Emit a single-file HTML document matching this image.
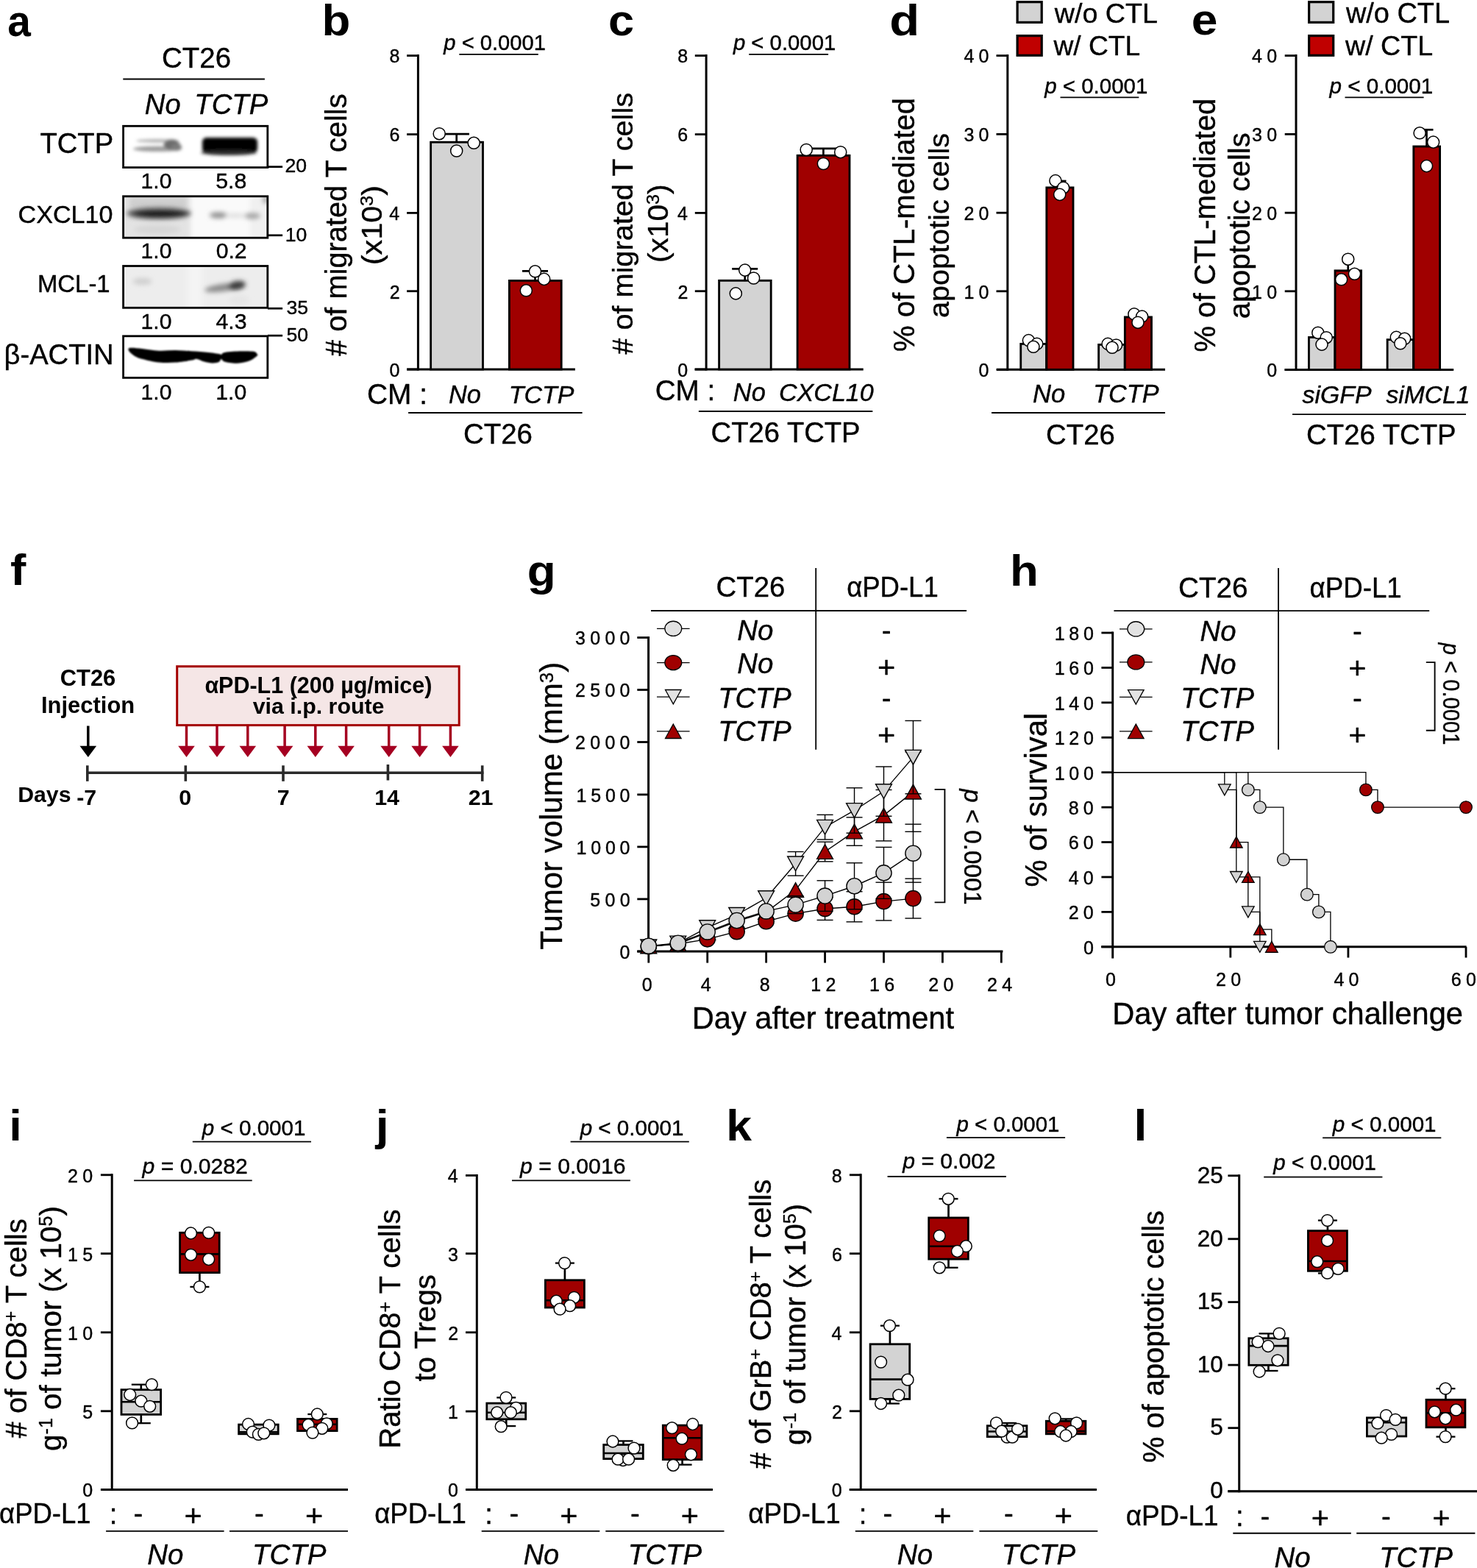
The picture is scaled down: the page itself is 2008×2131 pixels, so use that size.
<!DOCTYPE html>
<html lang="en">
<head>
<meta charset="utf-8">
<title>Figure</title>
<style>
html,body{margin:0;padding:0;background:#fff;}
body{width:2008px;height:2131px;}
svg{display:block;font-family:"Liberation Sans", Arial, Helvetica, sans-serif;}
svg text{white-space:pre;stroke:#000;stroke-width:0.4px;stroke-linejoin:round;}
svg text.b{stroke-width:0;}
</style>
</head>
<body>
<svg width="2008" height="2131" viewBox="0 0 2008 2131">
<defs>
<filter id="b1" x="-30%" y="-80%" width="160%" height="260%"><feGaussianBlur stdDeviation="2.2"/></filter>
<filter id="b2" x="-30%" y="-80%" width="160%" height="260%"><feGaussianBlur stdDeviation="3.2"/></filter>
<filter id="b3" x="-30%" y="-80%" width="160%" height="260%"><feGaussianBlur stdDeviation="1.3"/></filter>
<filter id="b5" x="-30%" y="-80%" width="160%" height="260%"><feGaussianBlur stdDeviation="5"/></filter>
<clipPath id="cx"><rect x="167.6" y="266.8" width="196.2" height="56.4"/></clipPath>
<clipPath id="cm"><rect x="167.6" y="361.5" width="196.2" height="56.8"/></clipPath>
</defs>
<rect width="2008" height="2131" fill="#fff"/>
<text font-size="59" class="b" textLength="31.6" lengthAdjust="spacingAndGlyphs" x="10.2" y="48.6"><tspan font-weight="bold">a</tspan></text>
<text font-size="38.47" x="220.08" y="91.6">CT26</text>
<line x1="167.3" y1="107.4" x2="359.9" y2="107.4" stroke="#000" stroke-width="2" stroke-linecap="butt"/>
<text font-size="38.11" x="196.86" y="154.6"><tspan font-style="italic">No</tspan></text>
<text font-size="38.29" x="264.35" y="154.6"><tspan font-style="italic">TCTP</tspan></text>
<rect x="167.6" y="266.8" width="196.20000000000002" height="56.4" fill="#fafafa"/>
<g clip-path="url(#cx)"><g filter="url(#b2)"><rect x="160" y="260" width="99" height="70" fill="#e3e3e3"/><rect x="176" y="268" width="78" height="16" fill="#cfcfcf"/><rect x="340" y="266" width="24" height="58" fill="#f0f0f0"/><rect x="358" y="267" width="5" height="9" fill="#666"/></g></g>
<rect x="167.6" y="361.5" width="196.20000000000002" height="56.8" fill="#ededed"/>
<g clip-path="url(#cm)"><g filter="url(#b5)"><rect x="255" y="355" width="20" height="70" fill="#f4f4f4"/></g></g>
<g filter="url(#b1)"><ellipse cx="214" cy="202.4" rx="33" ry="3.6" fill="#9c9c9c"/><ellipse cx="214" cy="191.4" rx="29" ry="2.4" fill="#b4b4b4"/><ellipse cx="233.5" cy="196.6" rx="11" ry="7" fill="#6c6c6c"/><ellipse cx="240" cy="200" rx="7" ry="5" fill="#7a7a7a"/><rect x="275" y="187.5" width="75" height="19.5" rx="5" fill="#000"/><rect x="277" y="187" width="70" height="14" rx="4" fill="#000"/><ellipse cx="311" cy="207.5" rx="38" ry="3.5" fill="#2a2a2a"/></g>
<g filter="url(#b2)"><ellipse cx="216" cy="290" rx="44" ry="8" fill="#5a5a5a"/><ellipse cx="218" cy="290.6" rx="37" ry="4.6" fill="#111"/><ellipse cx="297" cy="292.4" rx="12" ry="4" fill="#8c8c8c"/><ellipse cx="343" cy="293.4" rx="11" ry="4" fill="#a2a2a2"/><ellipse cx="320" cy="293" rx="14" ry="2.6" fill="#d8d8d8"/><ellipse cx="214" cy="312" rx="32" ry="6" fill="#d6d6d6"/></g>
<g filter="url(#b2)"><ellipse cx="193.5" cy="382.5" rx="13" ry="4.5" fill="#cfcfcf"/><ellipse cx="303" cy="391" rx="25" ry="5" fill="#8a8a8a" transform="rotate(-8 303 391)"/><ellipse cx="322" cy="388" rx="12" ry="6" fill="#3a3a3a" transform="rotate(-10 322 388)"/><ellipse cx="325" cy="408" rx="14" ry="7" fill="#e6e6e6"/></g>
<g filter="url(#b3)"><path d="M176.8 472.8 C179.88 472.33 187.05 473.25 193.6 473.9 C200.15 474.55 208.62 476.33 216.1 476.7 C223.58 477.07 231.03 476 238.5 476.1 C245.97 476.2 253.43 476.83 260.9 477.3 C268.37 477.77 276.95 478.25 283.3 478.9 C289.65 479.55 296.1 480.65 299 481.2 C301.9 481.75 299.57 482.58 300.7 482.2 C301.83 481.82 301.22 479.72 305.8 478.9 C310.38 478.08 321.67 477.48 328.2 477.3 C334.73 477.12 341.45 477.15 345 477.8 C348.55 478.45 348.75 480.27 349.5 481.2 C350.25 482.13 351.18 481.9 349.5 483.4 C347.82 484.9 343.88 488.48 339.4 490.2 C334.92 491.92 328.2 493.43 322.6 493.7 C317 493.97 309.45 492.75 305.8 491.8 C302.15 490.85 302.02 488 300.7 488 C299.38 488 299.87 490.88 297.9 491.8 C295.93 492.72 292.27 493.55 288.9 493.5 C285.53 493.45 281.25 492.43 277.7 491.5 C274.15 490.57 270.4 488.22 267.6 487.9 C264.8 487.58 265.75 488.82 260.9 489.6 C256.05 490.38 245.97 492.13 238.5 492.6 C231.03 493.07 223.58 493.18 216.1 492.4 C208.62 491.62 199.22 489.4 193.6 487.9 C187.98 486.4 185.48 485.27 182.4 483.4 C179.32 481.53 176.03 478.47 175.1 476.7 C174.17 474.93 173.72 473.27 176.8 472.8 Z" fill="#000"/></g>
<rect x="167.6" y="171.3" width="196.2" height="56.3" fill="none" stroke="#000" stroke-width="2.8" />
<rect x="167.6" y="266.8" width="196.2" height="56.4" fill="none" stroke="#000" stroke-width="2.8" />
<rect x="167.6" y="361.5" width="196.2" height="56.8" fill="none" stroke="#000" stroke-width="2.8" />
<rect x="167.6" y="456.8" width="196.2" height="56.6" fill="none" stroke="#000" stroke-width="2.8" />
<text font-size="38.19" x="54.44" y="207.9">TCTP</text>
<text font-size="34.12" x="24.59" y="303.3">CXCL10</text>
<text font-size="32.9" x="50.97" y="396.9">MCL-1</text>
<text font-size="38.16" x="5.53" y="494.8">β-ACTIN</text>
<text font-size="30.2" x="191.54" y="255.6">1.0</text>
<text font-size="30.2" x="293.33" y="255.6">5.8</text>
<text font-size="30.2" x="191.54" y="351.1">1.0</text>
<text font-size="30.2" x="293.63" y="351.1">0.2</text>
<text font-size="30.2" x="191.54" y="447.4">1.0</text>
<text font-size="30.2" x="293.48" y="447.4">4.3</text>
<text font-size="30.2" x="191.54" y="543.2">1.0</text>
<text font-size="30.2" x="293.33" y="543.2">1.0</text>
<line x1="364" y1="226.7" x2="384.1" y2="226.7" stroke="#000" stroke-width="2.7" stroke-linecap="butt"/>
<text font-size="26.6" x="387.4" y="234.4">20</text>
<line x1="364" y1="319.8" x2="384.1" y2="319.8" stroke="#000" stroke-width="2.7" stroke-linecap="butt"/>
<text font-size="26.6" x="387.67" y="327.6">10</text>
<line x1="364" y1="419.2" x2="384.1" y2="419.2" stroke="#000" stroke-width="2.7" stroke-linecap="butt"/>
<text font-size="26.6" x="389.54" y="427">35</text>
<line x1="364" y1="456.1" x2="384.1" y2="456.1" stroke="#000" stroke-width="2.7" stroke-linecap="butt"/>
<text font-size="26.6" x="389.54" y="463.8">50</text>
<text font-size="59" class="b" textLength="38.83" lengthAdjust="spacingAndGlyphs" x="437.57" y="48.1"><tspan font-weight="bold">b</tspan></text>
<line x1="553.2" y1="502" x2="781.9" y2="502" stroke="#000" stroke-width="3" stroke-linecap="butt"/>
<rect x="585.62" y="193.23" width="70.85" height="308.77" fill="#d3d3d3" stroke="#000" stroke-width="2.85" />
<rect x="692.42" y="381.43" width="70.75" height="120.57" fill="#a00000" stroke="#000" stroke-width="2.85" />
<line x1="568.4" y1="74.1" x2="568.4" y2="503.5" stroke="#000" stroke-width="3" stroke-linecap="butt"/>
<line x1="553.1" y1="75.6" x2="568.4" y2="75.6" stroke="#000" stroke-width="2.8" stroke-linecap="butt"/>
<text font-size="25" x="529.42" y="85.4">8</text>
<line x1="553.1" y1="182.6" x2="568.4" y2="182.6" stroke="#000" stroke-width="2.8" stroke-linecap="butt"/>
<text font-size="25" x="529.55" y="192.4">6</text>
<line x1="553.1" y1="289.4" x2="568.4" y2="289.4" stroke="#000" stroke-width="2.8" stroke-linecap="butt"/>
<text font-size="25" x="529.17" y="299.2">4</text>
<line x1="553.1" y1="395.7" x2="568.4" y2="395.7" stroke="#000" stroke-width="2.8" stroke-linecap="butt"/>
<text font-size="25" x="529.67" y="405.5">2</text>
<line x1="553.1" y1="502" x2="568.4" y2="502" stroke="#000" stroke-width="2.8" stroke-linecap="butt"/>
<text font-size="25" x="529.42" y="511.8">0</text>
<line x1="620.7" y1="182.2" x2="620.7" y2="192" stroke="#000" stroke-width="2.7" stroke-linecap="butt"/>
<line x1="603.45" y1="182.2" x2="637.95" y2="182.2" stroke="#000" stroke-width="2.7" stroke-linecap="butt"/>
<line x1="727.5" y1="368.3" x2="727.5" y2="380" stroke="#000" stroke-width="2.7" stroke-linecap="butt"/>
<line x1="710" y1="368.3" x2="745" y2="368.3" stroke="#000" stroke-width="2.7" stroke-linecap="butt"/>
<circle cx="597.2" cy="181.7" r="8.05" fill="#fff" stroke="#000" stroke-width="1.5"/>
<circle cx="644.2" cy="194.3" r="8.05" fill="#fff" stroke="#000" stroke-width="1.5"/>
<circle cx="620.7" cy="205" r="8.05" fill="#fff" stroke="#000" stroke-width="1.5"/>
<circle cx="727.5" cy="368.8" r="8.05" fill="#fff" stroke="#000" stroke-width="1.5"/>
<circle cx="739.7" cy="379.4" r="8.05" fill="#fff" stroke="#000" stroke-width="1.5"/>
<circle cx="715.3" cy="394.8" r="8.05" fill="#fff" stroke="#000" stroke-width="1.5"/>
<text font-size="29.17" x="603.33" y="67.9"><tspan font-style="italic">p</tspan> &lt; 0.0001</text>
<line x1="624.3" y1="73.9" x2="731.8" y2="73.9" stroke="#000" stroke-width="1.9" stroke-linecap="butt"/>
<text font-size="39.76" transform="translate(471.2 483.9) rotate(-90)"># of migrated T cells</text>
<text font-size="39.7" textLength="108.29" lengthAdjust="spacingAndGlyphs" transform="translate(518.6 360.18) rotate(-90)">(x10<tspan font-size="24.61" dy="-11.51">3</tspan><tspan dy="11.51">)</tspan></text>
<text font-size="38.83" x="498.96" y="548.8">CM :</text>
<text font-size="34.32" x="610.07" y="547.7"><tspan font-style="italic">No</tspan></text>
<text font-size="33.96" x="691.74" y="547.7"><tspan font-style="italic">TCTP</tspan></text>
<line x1="555.1" y1="561" x2="791.6" y2="561" stroke="#000" stroke-width="1.8" stroke-linecap="butt"/>
<text font-size="38.47" x="629.88" y="603.3">CT26</text>
<text font-size="59" class="b" textLength="35.09" lengthAdjust="spacingAndGlyphs" x="827.08" y="48.3"><tspan font-weight="bold">c</tspan></text>
<line x1="944.5" y1="502" x2="1173.7" y2="502" stroke="#000" stroke-width="3" stroke-linecap="butt"/>
<rect x="977.62" y="381.32" width="70.55" height="120.68" fill="#d3d3d3" stroke="#000" stroke-width="2.85" />
<rect x="1084.12" y="211.33" width="70.85" height="290.67" fill="#a00000" stroke="#000" stroke-width="2.85" />
<line x1="960.1" y1="74.1" x2="960.1" y2="503.5" stroke="#000" stroke-width="3" stroke-linecap="butt"/>
<line x1="944.8" y1="75.6" x2="960.1" y2="75.6" stroke="#000" stroke-width="2.8" stroke-linecap="butt"/>
<text font-size="25" x="921.23" y="85.4">8</text>
<line x1="944.8" y1="182.6" x2="960.1" y2="182.6" stroke="#000" stroke-width="2.8" stroke-linecap="butt"/>
<text font-size="25" x="921.35" y="192.4">6</text>
<line x1="944.8" y1="289.4" x2="960.1" y2="289.4" stroke="#000" stroke-width="2.8" stroke-linecap="butt"/>
<text font-size="25" x="920.98" y="299.2">4</text>
<line x1="944.8" y1="395.7" x2="960.1" y2="395.7" stroke="#000" stroke-width="2.8" stroke-linecap="butt"/>
<text font-size="25" x="921.48" y="405.5">2</text>
<line x1="944.8" y1="502" x2="960.1" y2="502" stroke="#000" stroke-width="2.8" stroke-linecap="butt"/>
<text font-size="25" x="921.23" y="511.8">0</text>
<line x1="1012.7" y1="365.3" x2="1012.7" y2="380" stroke="#000" stroke-width="2.7" stroke-linecap="butt"/>
<line x1="995.2" y1="365.3" x2="1030.2" y2="365.3" stroke="#000" stroke-width="2.7" stroke-linecap="butt"/>
<line x1="1119.4" y1="201.8" x2="1119.4" y2="210" stroke="#000" stroke-width="2.7" stroke-linecap="butt"/>
<line x1="1101.9" y1="201.8" x2="1136.9" y2="201.8" stroke="#000" stroke-width="2.7" stroke-linecap="butt"/>
<circle cx="1012.7" cy="367.1" r="8.05" fill="#fff" stroke="#000" stroke-width="1.5"/>
<circle cx="1024.6" cy="378" r="8.05" fill="#fff" stroke="#000" stroke-width="1.5"/>
<circle cx="1000.3" cy="398.9" r="8.05" fill="#fff" stroke="#000" stroke-width="1.5"/>
<circle cx="1096.2" cy="203.5" r="8.05" fill="#fff" stroke="#000" stroke-width="1.5"/>
<circle cx="1142.7" cy="206.7" r="8.05" fill="#fff" stroke="#000" stroke-width="1.5"/>
<circle cx="1119.4" cy="222.5" r="8.05" fill="#fff" stroke="#000" stroke-width="1.5"/>
<text font-size="29.31" x="996.93" y="67.9"><tspan font-style="italic">p</tspan> &lt; 0.0001</text>
<line x1="1018.2" y1="73.9" x2="1126.1" y2="73.9" stroke="#000" stroke-width="1.9" stroke-linecap="butt"/>
<text font-size="39.69" transform="translate(859.5 481.7) rotate(-90)"># of migrated T cells</text>
<text font-size="39.7" textLength="106.51" lengthAdjust="spacingAndGlyphs" transform="translate(907.8 356.94) rotate(-90)">(x10<tspan font-size="24.61" dy="-11.51">3</tspan><tspan dy="11.51">)</tspan></text>
<text font-size="38.63" x="890.67" y="543.5">CM :</text>
<text font-size="34.32" x="996.87" y="545.2"><tspan font-style="italic">No</tspan></text>
<text font-size="34.06" x="1059.03" y="545.2"><tspan font-style="italic">CXCL10</tspan></text>
<line x1="949.9" y1="559" x2="1186.3" y2="559" stroke="#000" stroke-width="1.8" stroke-linecap="butt"/>
<text font-size="38.2" x="966.59" y="601.1">CT26 TCTP</text>
<text font-size="59" class="b" textLength="40.89" lengthAdjust="spacingAndGlyphs" x="1209.32" y="48.3"><tspan font-weight="bold">d</tspan></text>
<rect x="1383.1" y="2.7" width="33.1" height="27.7" fill="#d3d3d3" stroke="#000" stroke-width="3.2" />
<rect x="1383.1" y="48.6" width="33.1" height="26.7" fill="#c00000" stroke="#000" stroke-width="3.2" />
<text font-size="37.62" x="1433.8" y="30.8">w/o CTL</text>
<text font-size="37.16" x="1432.5" y="75.3">w/ CTL</text>
<line x1="1355" y1="502.3" x2="1584" y2="502.3" stroke="#000" stroke-width="3" stroke-linecap="butt"/>
<rect x="1387.72" y="467.43" width="34.85" height="34.88" fill="#d3d3d3" stroke="#000" stroke-width="2.85" />
<rect x="1422.83" y="254.93" width="36.15" height="247.38" fill="#a00000" stroke="#000" stroke-width="2.85" />
<rect x="1493.62" y="468.43" width="35.55" height="33.88" fill="#d3d3d3" stroke="#000" stroke-width="2.85" />
<rect x="1529.33" y="430.93" width="36.15" height="71.38" fill="#a00000" stroke="#000" stroke-width="2.85" />
<line x1="1369.8" y1="74.1" x2="1369.8" y2="503.8" stroke="#000" stroke-width="3" stroke-linecap="butt"/>
<line x1="1354.5" y1="75.6" x2="1369.8" y2="75.6" stroke="#000" stroke-width="2.8" stroke-linecap="butt"/>
<text font-size="25" letter-spacing="6.3" x="1310.38" y="85.4">40</text>
<line x1="1354.5" y1="182.4" x2="1369.8" y2="182.4" stroke="#000" stroke-width="2.8" stroke-linecap="butt"/>
<text font-size="25" letter-spacing="6.3" x="1310.38" y="192.2">30</text>
<line x1="1354.5" y1="289.2" x2="1369.8" y2="289.2" stroke="#000" stroke-width="2.8" stroke-linecap="butt"/>
<text font-size="25" letter-spacing="6.3" x="1310.38" y="299">20</text>
<line x1="1354.5" y1="395.8" x2="1369.8" y2="395.8" stroke="#000" stroke-width="2.8" stroke-linecap="butt"/>
<text font-size="25" letter-spacing="6.3" x="1310.38" y="405.6">10</text>
<line x1="1354.5" y1="502.3" x2="1369.8" y2="502.3" stroke="#000" stroke-width="2.8" stroke-linecap="butt"/>
<text font-size="25" letter-spacing="6.3" x="1330.62" y="512.1">0</text>
<line x1="1441" y1="246" x2="1441" y2="255" stroke="#000" stroke-width="2.7" stroke-linecap="butt"/>
<line x1="1432.5" y1="246" x2="1449.5" y2="246" stroke="#000" stroke-width="2.7" stroke-linecap="butt"/>
<circle cx="1398.4" cy="462.6" r="8.05" fill="#fff" stroke="#000" stroke-width="1.5"/>
<circle cx="1409.7" cy="467.4" r="8.05" fill="#fff" stroke="#000" stroke-width="1.5"/>
<circle cx="1404.9" cy="471.3" r="8.05" fill="#fff" stroke="#000" stroke-width="1.5"/>
<circle cx="1434.9" cy="245.6" r="8.05" fill="#fff" stroke="#000" stroke-width="1.5"/>
<circle cx="1445.6" cy="255.2" r="8.05" fill="#fff" stroke="#000" stroke-width="1.5"/>
<circle cx="1440.7" cy="264.4" r="8.05" fill="#fff" stroke="#000" stroke-width="1.5"/>
<circle cx="1506.1" cy="467.4" r="8.05" fill="#fff" stroke="#000" stroke-width="1.5"/>
<circle cx="1517.5" cy="469" r="8.05" fill="#fff" stroke="#000" stroke-width="1.5"/>
<circle cx="1512" cy="472.3" r="8.05" fill="#fff" stroke="#000" stroke-width="1.5"/>
<circle cx="1541.9" cy="426.9" r="8.05" fill="#fff" stroke="#000" stroke-width="1.5"/>
<circle cx="1552.6" cy="430.1" r="8.05" fill="#fff" stroke="#000" stroke-width="1.5"/>
<circle cx="1547" cy="438.2" r="8.05" fill="#fff" stroke="#000" stroke-width="1.5"/>
<text font-size="29.46" x="1420.24" y="126.6"><tspan font-style="italic">p</tspan> &lt; 0.0001</text>
<line x1="1441.5" y1="132.4" x2="1548.3" y2="132.4" stroke="#000" stroke-width="1.9" stroke-linecap="butt"/>
<text font-size="40.05" transform="translate(1242.6 477.9) rotate(-90)">% of CTL-mediated</text>
<text font-size="39.63" transform="translate(1289.6 432.09) rotate(-90)">apoptotic cells</text>
<text font-size="34.57" x="1403.96" y="547"><tspan font-style="italic">No</tspan></text>
<text font-size="34.19" x="1486.22" y="547"><tspan font-style="italic">TCTP</tspan></text>
<line x1="1348" y1="561" x2="1584" y2="561" stroke="#000" stroke-width="1.8" stroke-linecap="butt"/>
<text font-size="38.3" x="1422.09" y="603.6">CT26</text>
<text font-size="59" class="b" textLength="35.69" lengthAdjust="spacingAndGlyphs" x="1619.83" y="47.3"><tspan font-weight="bold">e</tspan></text>
<rect x="1779.6" y="2.7" width="33.1" height="27.7" fill="#d3d3d3" stroke="#000" stroke-width="3.2" />
<rect x="1779.6" y="48.6" width="33.1" height="26.7" fill="#c00000" stroke="#000" stroke-width="3.2" />
<text font-size="37.86" x="1830" y="30.8">w/o CTL</text>
<text font-size="37.64" x="1829" y="75.3">w/ CTL</text>
<line x1="1746.5" y1="502.5" x2="1976.2" y2="502.5" stroke="#000" stroke-width="3" stroke-linecap="butt"/>
<rect x="1779.42" y="458.43" width="35.35" height="44.07" fill="#d3d3d3" stroke="#000" stroke-width="2.85" />
<rect x="1815.02" y="367.82" width="35.55" height="134.68" fill="#a00000" stroke="#000" stroke-width="2.85" />
<rect x="1886.12" y="461.62" width="35.45" height="40.88" fill="#d3d3d3" stroke="#000" stroke-width="2.85" />
<rect x="1921.83" y="199.03" width="35.75" height="303.48" fill="#a00000" stroke="#000" stroke-width="2.85" />
<line x1="1762" y1="74.1" x2="1762" y2="504" stroke="#000" stroke-width="3" stroke-linecap="butt"/>
<line x1="1746.7" y1="75.6" x2="1762" y2="75.6" stroke="#000" stroke-width="2.8" stroke-linecap="butt"/>
<text font-size="25" letter-spacing="6.3" x="1702.08" y="85.4">40</text>
<line x1="1746.7" y1="182.4" x2="1762" y2="182.4" stroke="#000" stroke-width="2.8" stroke-linecap="butt"/>
<text font-size="25" letter-spacing="6.3" x="1702.08" y="192.2">30</text>
<line x1="1746.7" y1="289.2" x2="1762" y2="289.2" stroke="#000" stroke-width="2.8" stroke-linecap="butt"/>
<text font-size="25" letter-spacing="6.3" x="1702.08" y="299">20</text>
<line x1="1746.7" y1="395.8" x2="1762" y2="395.8" stroke="#000" stroke-width="2.8" stroke-linecap="butt"/>
<text font-size="25" letter-spacing="6.3" x="1702.08" y="405.6">10</text>
<line x1="1746.7" y1="502.5" x2="1762" y2="502.5" stroke="#000" stroke-width="2.8" stroke-linecap="butt"/>
<text font-size="25" letter-spacing="6.3" x="1722.33" y="512.3">0</text>
<line x1="1832.7" y1="352" x2="1832.7" y2="368" stroke="#000" stroke-width="2.7" stroke-linecap="butt"/>
<line x1="1939.5" y1="176.3" x2="1939.5" y2="199" stroke="#000" stroke-width="2.7" stroke-linecap="butt"/>
<line x1="1930.5" y1="176.3" x2="1948.5" y2="176.3" stroke="#000" stroke-width="2.7" stroke-linecap="butt"/>
<circle cx="1791.8" cy="452.2" r="8.05" fill="#fff" stroke="#000" stroke-width="1.5"/>
<circle cx="1803.2" cy="458.7" r="8.05" fill="#fff" stroke="#000" stroke-width="1.5"/>
<circle cx="1797" cy="468.1" r="8.05" fill="#fff" stroke="#000" stroke-width="1.5"/>
<circle cx="1832.7" cy="352.2" r="8.05" fill="#fff" stroke="#000" stroke-width="1.5"/>
<circle cx="1841.5" cy="372.3" r="8.05" fill="#fff" stroke="#000" stroke-width="1.5"/>
<circle cx="1823.6" cy="379.8" r="8.05" fill="#fff" stroke="#000" stroke-width="1.5"/>
<circle cx="1898.3" cy="458.4" r="8.05" fill="#fff" stroke="#000" stroke-width="1.5"/>
<circle cx="1909.6" cy="460.3" r="8.05" fill="#fff" stroke="#000" stroke-width="1.5"/>
<circle cx="1903.8" cy="466.8" r="8.05" fill="#fff" stroke="#000" stroke-width="1.5"/>
<circle cx="1930.1" cy="180.8" r="8.05" fill="#fff" stroke="#000" stroke-width="1.5"/>
<circle cx="1948.6" cy="193.1" r="8.05" fill="#fff" stroke="#000" stroke-width="1.5"/>
<circle cx="1939.5" cy="225.6" r="8.05" fill="#fff" stroke="#000" stroke-width="1.5"/>
<text font-size="29.63" x="1807.44" y="126.6"><tspan font-style="italic">p</tspan> &lt; 0.0001</text>
<line x1="1828.5" y1="132.4" x2="1935.6" y2="132.4" stroke="#000" stroke-width="1.9" stroke-linecap="butt"/>
<text font-size="40.04" transform="translate(1651.6 478.6) rotate(-90)">% of CTL-mediated</text>
<text font-size="39.92" transform="translate(1698.6 433.3) rotate(-90)">apoptotic cells</text>
<text font-size="33.82" x="1770.53" y="548"><tspan font-style="italic">siGFP</tspan></text>
<text font-size="33.64" x="1884.43" y="548"><tspan font-style="italic">siMCL1</tspan></text>
<line x1="1757" y1="563.2" x2="1993" y2="563.2" stroke="#000" stroke-width="1.8" stroke-linecap="butt"/>
<text font-size="38.31" x="1776.08" y="603.8">CT26 TCTP</text>
<text font-size="59" class="b" textLength="21.34" lengthAdjust="spacingAndGlyphs" x="14.04" y="794.7"><tspan font-weight="bold">f</tspan></text>
<text font-size="30.89" class="b" x="81.76" y="932.3"><tspan font-weight="bold">CT26</tspan></text>
<text font-size="30.94" class="b" x="55.99" y="968.5"><tspan font-weight="bold">Injection</tspan></text>
<line x1="119.8" y1="986.5" x2="119.8" y2="1014.8" stroke="#000" stroke-width="3.5" stroke-linecap="butt"/>
<polygon points="108.5,1013.8 131.1,1013.8 119.8,1029" fill="#000" stroke="none" stroke-width="1" stroke-linejoin="miter"/>
<line x1="253.5" y1="985" x2="253.5" y2="1014.8" stroke="#a50021" stroke-width="3.5" stroke-linecap="butt"/>
<polygon points="242.2,1013.8 264.8,1013.8 253.5,1029" fill="#a50021" stroke="none" stroke-width="1" stroke-linejoin="miter"/>
<line x1="295" y1="985" x2="295" y2="1014.8" stroke="#a50021" stroke-width="3.5" stroke-linecap="butt"/>
<polygon points="283.7,1013.8 306.3,1013.8 295,1029" fill="#a50021" stroke="none" stroke-width="1" stroke-linejoin="miter"/>
<line x1="336.8" y1="985" x2="336.8" y2="1014.8" stroke="#a50021" stroke-width="3.5" stroke-linecap="butt"/>
<polygon points="325.5,1013.8 348.1,1013.8 336.8,1029" fill="#a50021" stroke="none" stroke-width="1" stroke-linejoin="miter"/>
<line x1="387.1" y1="985" x2="387.1" y2="1014.8" stroke="#a50021" stroke-width="3.5" stroke-linecap="butt"/>
<polygon points="375.8,1013.8 398.4,1013.8 387.1,1029" fill="#a50021" stroke="none" stroke-width="1" stroke-linejoin="miter"/>
<line x1="428.8" y1="985" x2="428.8" y2="1014.8" stroke="#a50021" stroke-width="3.5" stroke-linecap="butt"/>
<polygon points="417.5,1013.8 440.1,1013.8 428.8,1029" fill="#a50021" stroke="none" stroke-width="1" stroke-linejoin="miter"/>
<line x1="470.6" y1="985" x2="470.6" y2="1014.8" stroke="#a50021" stroke-width="3.5" stroke-linecap="butt"/>
<polygon points="459.3,1013.8 481.9,1013.8 470.6,1029" fill="#a50021" stroke="none" stroke-width="1" stroke-linejoin="miter"/>
<line x1="528.7" y1="985" x2="528.7" y2="1014.8" stroke="#a50021" stroke-width="3.5" stroke-linecap="butt"/>
<polygon points="517.4,1013.8 540,1013.8 528.7,1029" fill="#a50021" stroke="none" stroke-width="1" stroke-linejoin="miter"/>
<line x1="570.6" y1="985" x2="570.6" y2="1014.8" stroke="#a50021" stroke-width="3.5" stroke-linecap="butt"/>
<polygon points="559.3,1013.8 581.9,1013.8 570.6,1029" fill="#a50021" stroke="none" stroke-width="1" stroke-linejoin="miter"/>
<line x1="612.4" y1="985" x2="612.4" y2="1014.8" stroke="#a50021" stroke-width="3.5" stroke-linecap="butt"/>
<polygon points="601.1,1013.8 623.7,1013.8 612.4,1029" fill="#a50021" stroke="none" stroke-width="1" stroke-linejoin="miter"/>
<rect x="240.7" y="905.7" width="383.5" height="79.9" fill="#f5e6e6" stroke="#a40000" stroke-width="3" />
<text font-size="30.49" class="b" x="278.38" y="942.4"><tspan font-weight="bold">αPD-L1 (200 µg/mice)</tspan></text>
<text font-size="30.36" class="b" x="343.65" y="970.4"><tspan font-weight="bold">via i.p. route</tspan></text>
<line x1="117" y1="1050.2" x2="657.5" y2="1050.2" stroke="#2a2a2a" stroke-width="3.6" stroke-linecap="butt"/>
<line x1="118.8" y1="1040.3" x2="118.8" y2="1061.8" stroke="#2a2a2a" stroke-width="3.6" stroke-linecap="butt"/>
<line x1="252.3" y1="1040.3" x2="252.3" y2="1061.8" stroke="#2a2a2a" stroke-width="3.6" stroke-linecap="butt"/>
<line x1="385" y1="1040.3" x2="385" y2="1061.8" stroke="#2a2a2a" stroke-width="3.6" stroke-linecap="butt"/>
<line x1="527.4" y1="1039" x2="527.4" y2="1060.5" stroke="#2a2a2a" stroke-width="3.6" stroke-linecap="butt"/>
<line x1="655.7" y1="1040.3" x2="655.7" y2="1061.8" stroke="#2a2a2a" stroke-width="3.6" stroke-linecap="butt"/>
<text font-size="30.24" class="b" x="24.23" y="1090"><tspan font-weight="bold">Days</tspan></text>
<text font-size="30.4" class="b" x="104.17" y="1093.7"><tspan font-weight="bold">-7</tspan></text>
<text font-size="30.4" class="b" x="243.26" y="1093.7"><tspan font-weight="bold">0</tspan></text>
<text font-size="30.4" class="b" x="376.84" y="1093.7"><tspan font-weight="bold">7</tspan></text>
<text font-size="30.4" class="b" x="509.22" y="1093.7"><tspan font-weight="bold">14</tspan></text>
<text font-size="30.4" class="b" x="636.63" y="1093.7"><tspan font-weight="bold">21</tspan></text>
<text font-size="59" class="b" textLength="38.95" lengthAdjust="spacingAndGlyphs" x="716.85" y="796"><tspan font-weight="bold">g</tspan></text>
<text font-size="38.34" x="973.58" y="810.8">CT26</text>
<text font-size="38.3" textLength="124.6" lengthAdjust="spacingAndGlyphs" x="1151.14" y="810.8">αPD-L1</text>
<line x1="885" y1="830" x2="1314" y2="830" stroke="#000" stroke-width="1.8" stroke-linecap="butt"/>
<line x1="1109.2" y1="772" x2="1109.2" y2="1018.8" stroke="#000" stroke-width="1.8" stroke-linecap="butt"/>
<line x1="893" y1="854.3" x2="937.6" y2="854.3" stroke="#000" stroke-width="1.2" stroke-linecap="butt"/>
<ellipse cx="915.3" cy="854.3" rx="11.45" ry="10.04" fill="#e2e2e2" stroke="#000" stroke-width="1.3"/>
<text font-size="38.44" x="1002.35" y="869.5"><tspan font-style="italic">No</tspan></text>
<text font-size="38.3" x="1198.78" y="869.7">-</text>
<line x1="893" y1="900.6" x2="937.6" y2="900.6" stroke="#000" stroke-width="1.2" stroke-linecap="butt"/>
<ellipse cx="915.3" cy="900.6" rx="11.45" ry="10.04" fill="#a00000" stroke="#000" stroke-width="1.3"/>
<text font-size="38.44" x="1002.35" y="915.1"><tspan font-style="italic">No</tspan></text>
<text font-size="41.5" x="1193.06" y="920.6">+</text>
<line x1="893" y1="947.2" x2="937.6" y2="947.2" stroke="#000" stroke-width="1.2" stroke-linecap="butt"/>
<polygon points="904.5,937.48 926.1,937.48 915.3,956.92" fill="#e2e2e2" stroke="#000" stroke-width="1.3" stroke-linejoin="miter"/>
<text font-size="38.17" x="976.16" y="961.8"><tspan font-style="italic">TCTP</tspan></text>
<text font-size="38.3" x="1198.78" y="962">-</text>
<line x1="893" y1="993.8" x2="937.6" y2="993.8" stroke="#000" stroke-width="1.2" stroke-linecap="butt"/>
<polygon points="904.5,1003.52 926.1,1003.52 915.3,984.08" fill="#a00000" stroke="#000" stroke-width="1.3" stroke-linejoin="miter"/>
<text font-size="38.17" x="976.16" y="1007"><tspan font-style="italic">TCTP</tspan></text>
<text font-size="41.5" x="1193.06" y="1012.5">+</text>
<line x1="866.3" y1="1293" x2="1363.4" y2="1293" stroke="#000" stroke-width="3" stroke-linecap="butt"/>
<line x1="881.6" y1="865" x2="881.6" y2="1294.5" stroke="#000" stroke-width="3" stroke-linecap="butt"/>
<line x1="866.3" y1="866.5" x2="881.6" y2="866.5" stroke="#000" stroke-width="2.8" stroke-linecap="butt"/>
<text font-size="25" letter-spacing="6.3" x="782" y="876.3">3000</text>
<line x1="866.3" y1="937.5" x2="881.6" y2="937.5" stroke="#000" stroke-width="2.8" stroke-linecap="butt"/>
<text font-size="25" letter-spacing="6.3" x="782" y="947.3">2500</text>
<line x1="866.3" y1="1008.5" x2="881.6" y2="1008.5" stroke="#000" stroke-width="2.8" stroke-linecap="butt"/>
<text font-size="25" letter-spacing="6.3" x="782" y="1018.3">2000</text>
<line x1="866.3" y1="1079.9" x2="881.6" y2="1079.9" stroke="#000" stroke-width="2.8" stroke-linecap="butt"/>
<text font-size="25" letter-spacing="5.75" x="783.62" y="1089.7">1500</text>
<line x1="866.3" y1="1150.9" x2="881.6" y2="1150.9" stroke="#000" stroke-width="2.8" stroke-linecap="butt"/>
<text font-size="25" letter-spacing="5.75" x="783.62" y="1160.7">1000</text>
<line x1="866.3" y1="1221.9" x2="881.6" y2="1221.9" stroke="#000" stroke-width="2.8" stroke-linecap="butt"/>
<text font-size="25" letter-spacing="6.3" x="802.25" y="1231.7">500</text>
<line x1="866.3" y1="1293" x2="881.6" y2="1293" stroke="#000" stroke-width="2.8" stroke-linecap="butt"/>
<text font-size="25" letter-spacing="6.3" x="842.62" y="1302.8">0</text>
<line x1="881.8" y1="1293" x2="881.8" y2="1308.6" stroke="#000" stroke-width="2.8" stroke-linecap="butt"/>
<text font-size="25" letter-spacing="6.3" x="872.86" y="1346.6">0</text>
<line x1="961.72" y1="1293" x2="961.72" y2="1308.6" stroke="#000" stroke-width="2.8" stroke-linecap="butt"/>
<text font-size="25" letter-spacing="6.3" x="952.84" y="1346.6">4</text>
<line x1="1041.64" y1="1293" x2="1041.64" y2="1308.6" stroke="#000" stroke-width="2.8" stroke-linecap="butt"/>
<text font-size="25" letter-spacing="6.3" x="1032.64" y="1346.6">8</text>
<line x1="1121.56" y1="1293" x2="1121.56" y2="1308.6" stroke="#000" stroke-width="2.8" stroke-linecap="butt"/>
<text font-size="25" letter-spacing="6.3" x="1102.18" y="1346.6">12</text>
<line x1="1201.48" y1="1293" x2="1201.48" y2="1308.6" stroke="#000" stroke-width="2.8" stroke-linecap="butt"/>
<text font-size="25" letter-spacing="6.3" x="1182.04" y="1346.6">16</text>
<line x1="1281.4" y1="1293" x2="1281.4" y2="1308.6" stroke="#000" stroke-width="2.8" stroke-linecap="butt"/>
<text font-size="25" letter-spacing="6.3" x="1262.21" y="1346.6">20</text>
<line x1="1361.32" y1="1293" x2="1361.32" y2="1308.6" stroke="#000" stroke-width="2.8" stroke-linecap="butt"/>
<text font-size="25" letter-spacing="6.3" x="1342.01" y="1346.6">24</text>
<text font-size="41.65" x="940.67" y="1398">Day after treatment</text>
<text font-size="42.03" transform="translate(764.2 1290.84) rotate(-90)">Tumor volume (mm<tspan font-size="26.06" dy="-12.19">3</tspan><tspan dy="12.19">)</tspan></text>
<line x1="1121.56" y1="1144.2" x2="1121.56" y2="1170.89" stroke="#000" stroke-width="1.4" stroke-linecap="butt"/>
<line x1="1110.56" y1="1144.2" x2="1132.56" y2="1144.2" stroke="#000" stroke-width="1.4" stroke-linecap="butt"/>
<line x1="1110.56" y1="1170.89" x2="1132.56" y2="1170.89" stroke="#000" stroke-width="1.4" stroke-linecap="butt"/>
<line x1="1161.52" y1="1110.83" x2="1161.52" y2="1149.27" stroke="#000" stroke-width="1.4" stroke-linecap="butt"/>
<line x1="1150.52" y1="1110.83" x2="1172.52" y2="1110.83" stroke="#000" stroke-width="1.4" stroke-linecap="butt"/>
<line x1="1150.52" y1="1149.27" x2="1172.52" y2="1149.27" stroke="#000" stroke-width="1.4" stroke-linecap="butt"/>
<line x1="1201.48" y1="1073.45" x2="1201.48" y2="1142.86" stroke="#000" stroke-width="1.4" stroke-linecap="butt"/>
<line x1="1190.48" y1="1073.45" x2="1212.48" y2="1073.45" stroke="#000" stroke-width="1.4" stroke-linecap="butt"/>
<line x1="1190.48" y1="1142.86" x2="1212.48" y2="1142.86" stroke="#000" stroke-width="1.4" stroke-linecap="butt"/>
<line x1="1241.44" y1="1021.93" x2="1241.44" y2="1130.32" stroke="#000" stroke-width="1.4" stroke-linecap="butt"/>
<line x1="1230.44" y1="1021.93" x2="1252.44" y2="1021.93" stroke="#000" stroke-width="1.4" stroke-linecap="butt"/>
<line x1="1230.44" y1="1130.32" x2="1252.44" y2="1130.32" stroke="#000" stroke-width="1.4" stroke-linecap="butt"/>
<polyline points="881.8,1285.95 921.76,1282.74 961.72,1267.53 1001.68,1252.31 1041.64,1239.5 1081.6,1209.6 1121.56,1157.54 1161.52,1130.05 1201.48,1108.16 1241.44,1076.12" fill="none" stroke="#000" stroke-width="1.4" stroke-linejoin="miter"/>
<polygon points="870.9,1295.76 892.7,1295.76 881.8,1276.14" fill="#a00000" stroke="#000" stroke-width="1.4" stroke-linejoin="miter"/>
<polygon points="910.86,1292.55 932.66,1292.55 921.76,1272.93" fill="#a00000" stroke="#000" stroke-width="1.4" stroke-linejoin="miter"/>
<polygon points="950.82,1277.34 972.62,1277.34 961.72,1257.72" fill="#a00000" stroke="#000" stroke-width="1.4" stroke-linejoin="miter"/>
<polygon points="990.78,1262.12 1012.58,1262.12 1001.68,1242.5" fill="#a00000" stroke="#000" stroke-width="1.4" stroke-linejoin="miter"/>
<polygon points="1030.74,1249.31 1052.54,1249.31 1041.64,1229.69" fill="#a00000" stroke="#000" stroke-width="1.4" stroke-linejoin="miter"/>
<polygon points="1070.7,1219.41 1092.5,1219.41 1081.6,1199.79" fill="#a00000" stroke="#000" stroke-width="1.4" stroke-linejoin="miter"/>
<polygon points="1110.66,1167.35 1132.46,1167.35 1121.56,1147.73" fill="#a00000" stroke="#000" stroke-width="1.4" stroke-linejoin="miter"/>
<polygon points="1150.62,1139.86 1172.42,1139.86 1161.52,1120.24" fill="#a00000" stroke="#000" stroke-width="1.4" stroke-linejoin="miter"/>
<polygon points="1190.58,1117.97 1212.38,1117.97 1201.48,1098.35" fill="#a00000" stroke="#000" stroke-width="1.4" stroke-linejoin="miter"/>
<polygon points="1230.54,1085.93 1252.34,1085.93 1241.44,1066.31" fill="#a00000" stroke="#000" stroke-width="1.4" stroke-linejoin="miter"/>
<line x1="1081.6" y1="1157.54" x2="1081.6" y2="1190.11" stroke="#000" stroke-width="1.4" stroke-linecap="butt"/>
<line x1="1070.6" y1="1157.54" x2="1092.6" y2="1157.54" stroke="#000" stroke-width="1.4" stroke-linecap="butt"/>
<line x1="1070.6" y1="1190.11" x2="1092.6" y2="1190.11" stroke="#000" stroke-width="1.4" stroke-linecap="butt"/>
<line x1="1121.56" y1="1107.36" x2="1121.56" y2="1140.99" stroke="#000" stroke-width="1.4" stroke-linecap="butt"/>
<line x1="1110.56" y1="1107.36" x2="1132.56" y2="1107.36" stroke="#000" stroke-width="1.4" stroke-linecap="butt"/>
<line x1="1110.56" y1="1140.99" x2="1132.56" y2="1140.99" stroke="#000" stroke-width="1.4" stroke-linecap="butt"/>
<line x1="1161.52" y1="1070.78" x2="1161.52" y2="1132.18" stroke="#000" stroke-width="1.4" stroke-linecap="butt"/>
<line x1="1150.52" y1="1070.78" x2="1172.52" y2="1070.78" stroke="#000" stroke-width="1.4" stroke-linecap="butt"/>
<line x1="1150.52" y1="1132.18" x2="1172.52" y2="1132.18" stroke="#000" stroke-width="1.4" stroke-linecap="butt"/>
<line x1="1201.48" y1="1041.95" x2="1201.48" y2="1109.23" stroke="#000" stroke-width="1.4" stroke-linecap="butt"/>
<line x1="1190.48" y1="1041.95" x2="1212.48" y2="1041.95" stroke="#000" stroke-width="1.4" stroke-linecap="butt"/>
<line x1="1190.48" y1="1109.23" x2="1212.48" y2="1109.23" stroke="#000" stroke-width="1.4" stroke-linecap="butt"/>
<line x1="1241.44" y1="979.49" x2="1241.44" y2="1078.79" stroke="#000" stroke-width="1.4" stroke-linecap="butt"/>
<line x1="1230.44" y1="979.49" x2="1252.44" y2="979.49" stroke="#000" stroke-width="1.4" stroke-linecap="butt"/>
<line x1="1230.44" y1="1078.79" x2="1252.44" y2="1078.79" stroke="#000" stroke-width="1.4" stroke-linecap="butt"/>
<polyline points="881.8,1286.75 921.76,1281.94 961.72,1260.59 1001.68,1243.24 1041.64,1220.54 1081.6,1173.83 1121.56,1124.18 1161.52,1101.48 1201.48,1075.59 1241.44,1029.14" fill="none" stroke="#000" stroke-width="1.4" stroke-linejoin="miter"/>
<polygon points="870.9,1276.94 892.7,1276.94 881.8,1296.56" fill="#d3d3d3" stroke="#000" stroke-width="1.4" stroke-linejoin="miter"/>
<polygon points="910.86,1272.13 932.66,1272.13 921.76,1291.75" fill="#d3d3d3" stroke="#000" stroke-width="1.4" stroke-linejoin="miter"/>
<polygon points="950.82,1250.78 972.62,1250.78 961.72,1270.4" fill="#d3d3d3" stroke="#000" stroke-width="1.4" stroke-linejoin="miter"/>
<polygon points="990.78,1233.43 1012.58,1233.43 1001.68,1253.05" fill="#d3d3d3" stroke="#000" stroke-width="1.4" stroke-linejoin="miter"/>
<polygon points="1030.74,1210.73 1052.54,1210.73 1041.64,1230.35" fill="#d3d3d3" stroke="#000" stroke-width="1.4" stroke-linejoin="miter"/>
<polygon points="1070.7,1164.02 1092.5,1164.02 1081.6,1183.64" fill="#d3d3d3" stroke="#000" stroke-width="1.4" stroke-linejoin="miter"/>
<polygon points="1110.66,1114.37 1132.46,1114.37 1121.56,1133.99" fill="#d3d3d3" stroke="#000" stroke-width="1.4" stroke-linejoin="miter"/>
<polygon points="1150.62,1091.67 1172.42,1091.67 1161.52,1111.29" fill="#d3d3d3" stroke="#000" stroke-width="1.4" stroke-linejoin="miter"/>
<polygon points="1190.58,1065.78 1212.38,1065.78 1201.48,1085.4" fill="#d3d3d3" stroke="#000" stroke-width="1.4" stroke-linejoin="miter"/>
<polygon points="1230.54,1019.33 1252.34,1019.33 1241.44,1038.95" fill="#d3d3d3" stroke="#000" stroke-width="1.4" stroke-linejoin="miter"/>
<line x1="1121.56" y1="1219.48" x2="1121.56" y2="1250.44" stroke="#000" stroke-width="1.4" stroke-linecap="butt"/>
<line x1="1110.56" y1="1219.48" x2="1132.56" y2="1219.48" stroke="#000" stroke-width="1.4" stroke-linecap="butt"/>
<line x1="1110.56" y1="1250.44" x2="1132.56" y2="1250.44" stroke="#000" stroke-width="1.4" stroke-linecap="butt"/>
<line x1="1161.52" y1="1211.74" x2="1161.52" y2="1252.85" stroke="#000" stroke-width="1.4" stroke-linecap="butt"/>
<line x1="1150.52" y1="1211.74" x2="1172.52" y2="1211.74" stroke="#000" stroke-width="1.4" stroke-linecap="butt"/>
<line x1="1150.52" y1="1252.85" x2="1172.52" y2="1252.85" stroke="#000" stroke-width="1.4" stroke-linecap="butt"/>
<line x1="1201.48" y1="1199.19" x2="1201.48" y2="1250.98" stroke="#000" stroke-width="1.4" stroke-linecap="butt"/>
<line x1="1190.48" y1="1199.19" x2="1212.48" y2="1199.19" stroke="#000" stroke-width="1.4" stroke-linecap="butt"/>
<line x1="1190.48" y1="1250.98" x2="1212.48" y2="1250.98" stroke="#000" stroke-width="1.4" stroke-linecap="butt"/>
<line x1="1241.44" y1="1194.12" x2="1241.44" y2="1248.04" stroke="#000" stroke-width="1.4" stroke-linecap="butt"/>
<line x1="1230.44" y1="1194.12" x2="1252.44" y2="1194.12" stroke="#000" stroke-width="1.4" stroke-linecap="butt"/>
<line x1="1230.44" y1="1248.04" x2="1252.44" y2="1248.04" stroke="#000" stroke-width="1.4" stroke-linecap="butt"/>
<polyline points="881.8,1286.21 921.76,1283.01 961.72,1276.34 1001.68,1266.19 1041.64,1252.31 1081.6,1241.63 1121.56,1234.96 1161.52,1232.29 1201.48,1225.08 1241.44,1221.08" fill="none" stroke="#000" stroke-width="1.4" stroke-linejoin="miter"/>
<circle cx="881.8" cy="1286.21" r="10.6" fill="#a00000" stroke="#000" stroke-width="1.4"/>
<circle cx="921.76" cy="1283.01" r="10.6" fill="#a00000" stroke="#000" stroke-width="1.4"/>
<circle cx="961.72" cy="1276.34" r="10.6" fill="#a00000" stroke="#000" stroke-width="1.4"/>
<circle cx="1001.68" cy="1266.19" r="10.6" fill="#a00000" stroke="#000" stroke-width="1.4"/>
<circle cx="1041.64" cy="1252.31" r="10.6" fill="#a00000" stroke="#000" stroke-width="1.4"/>
<circle cx="1081.6" cy="1241.63" r="10.6" fill="#a00000" stroke="#000" stroke-width="1.4"/>
<circle cx="1121.56" cy="1234.96" r="10.6" fill="#a00000" stroke="#000" stroke-width="1.4"/>
<circle cx="1161.52" cy="1232.29" r="10.6" fill="#a00000" stroke="#000" stroke-width="1.4"/>
<circle cx="1201.48" cy="1225.08" r="10.6" fill="#a00000" stroke="#000" stroke-width="1.4"/>
<circle cx="1241.44" cy="1221.08" r="10.6" fill="#a00000" stroke="#000" stroke-width="1.4"/>
<line x1="1081.6" y1="1217.61" x2="1081.6" y2="1241.63" stroke="#000" stroke-width="1.4" stroke-linecap="butt"/>
<line x1="1070.6" y1="1217.61" x2="1092.6" y2="1217.61" stroke="#000" stroke-width="1.4" stroke-linecap="butt"/>
<line x1="1070.6" y1="1241.63" x2="1092.6" y2="1241.63" stroke="#000" stroke-width="1.4" stroke-linecap="butt"/>
<line x1="1121.56" y1="1196.79" x2="1121.56" y2="1238.43" stroke="#000" stroke-width="1.4" stroke-linecap="butt"/>
<line x1="1110.56" y1="1196.79" x2="1132.56" y2="1196.79" stroke="#000" stroke-width="1.4" stroke-linecap="butt"/>
<line x1="1110.56" y1="1238.43" x2="1132.56" y2="1238.43" stroke="#000" stroke-width="1.4" stroke-linecap="butt"/>
<line x1="1161.52" y1="1172.76" x2="1161.52" y2="1235.76" stroke="#000" stroke-width="1.4" stroke-linecap="butt"/>
<line x1="1150.52" y1="1172.76" x2="1172.52" y2="1172.76" stroke="#000" stroke-width="1.4" stroke-linecap="butt"/>
<line x1="1150.52" y1="1235.76" x2="1172.52" y2="1235.76" stroke="#000" stroke-width="1.4" stroke-linecap="butt"/>
<line x1="1201.48" y1="1151.4" x2="1201.48" y2="1221.35" stroke="#000" stroke-width="1.4" stroke-linecap="butt"/>
<line x1="1190.48" y1="1151.4" x2="1212.48" y2="1151.4" stroke="#000" stroke-width="1.4" stroke-linecap="butt"/>
<line x1="1190.48" y1="1221.35" x2="1212.48" y2="1221.35" stroke="#000" stroke-width="1.4" stroke-linecap="butt"/>
<line x1="1241.44" y1="1120.17" x2="1241.44" y2="1199.19" stroke="#000" stroke-width="1.4" stroke-linecap="butt"/>
<line x1="1230.44" y1="1120.17" x2="1252.44" y2="1120.17" stroke="#000" stroke-width="1.4" stroke-linecap="butt"/>
<line x1="1230.44" y1="1199.19" x2="1252.44" y2="1199.19" stroke="#000" stroke-width="1.4" stroke-linecap="butt"/>
<polyline points="881.8,1285.68 921.76,1281.68 961.72,1266.46 1001.68,1250.98 1041.64,1238.43 1081.6,1229.62 1121.56,1217.61 1161.52,1204.26 1201.48,1186.37 1241.44,1159.68" fill="none" stroke="#000" stroke-width="1.4" stroke-linejoin="miter"/>
<circle cx="881.8" cy="1285.68" r="10.6" fill="#d3d3d3" stroke="#000" stroke-width="1.4"/>
<circle cx="921.76" cy="1281.68" r="10.6" fill="#d3d3d3" stroke="#000" stroke-width="1.4"/>
<circle cx="961.72" cy="1266.46" r="10.6" fill="#d3d3d3" stroke="#000" stroke-width="1.4"/>
<circle cx="1001.68" cy="1250.98" r="10.6" fill="#d3d3d3" stroke="#000" stroke-width="1.4"/>
<circle cx="1041.64" cy="1238.43" r="10.6" fill="#d3d3d3" stroke="#000" stroke-width="1.4"/>
<circle cx="1081.6" cy="1229.62" r="10.6" fill="#d3d3d3" stroke="#000" stroke-width="1.4"/>
<circle cx="1121.56" cy="1217.61" r="10.6" fill="#d3d3d3" stroke="#000" stroke-width="1.4"/>
<circle cx="1161.52" cy="1204.26" r="10.6" fill="#d3d3d3" stroke="#000" stroke-width="1.4"/>
<circle cx="1201.48" cy="1186.37" r="10.6" fill="#d3d3d3" stroke="#000" stroke-width="1.4"/>
<circle cx="1241.44" cy="1159.68" r="10.6" fill="#d3d3d3" stroke="#000" stroke-width="1.4"/>
<polyline points="1270.6,1072.9 1284.4,1072.9 1284.4,1226.4 1270.6,1226.4" fill="none" stroke="#000" stroke-width="1.9" stroke-linejoin="miter"/>
<text font-size="33.16" transform="translate(1311 1072.13) rotate(90)"><tspan font-style="italic">p</tspan> &lt; 0.0001</text>
<text font-size="59" class="b" textLength="38.82" lengthAdjust="spacingAndGlyphs" x="1373.05" y="795.7"><tspan font-weight="bold">h</tspan></text>
<text font-size="38.68" x="1601.97" y="811.5">CT26</text>
<text font-size="38.3" textLength="125.22" lengthAdjust="spacingAndGlyphs" x="1780.53" y="811.5">αPD-L1</text>
<line x1="1514.4" y1="830.2" x2="1943.2" y2="830.2" stroke="#000" stroke-width="1.8" stroke-linecap="butt"/>
<line x1="1738" y1="772" x2="1738" y2="1018.8" stroke="#000" stroke-width="1.8" stroke-linecap="butt"/>
<line x1="1522" y1="854.8" x2="1566.6" y2="854.8" stroke="#000" stroke-width="1.2" stroke-linecap="butt"/>
<ellipse cx="1544.3" cy="854.8" rx="11.45" ry="10.04" fill="#e2e2e2" stroke="#000" stroke-width="1.3"/>
<text font-size="38.27" x="1631.55" y="870.7"><tspan font-style="italic">No</tspan></text>
<text font-size="38.3" x="1838.98" y="870.9">-</text>
<line x1="1522" y1="899.9" x2="1566.6" y2="899.9" stroke="#000" stroke-width="1.2" stroke-linecap="butt"/>
<ellipse cx="1544.3" cy="899.9" rx="11.45" ry="10.04" fill="#a00000" stroke="#000" stroke-width="1.3"/>
<text font-size="38.27" x="1631.55" y="916.1"><tspan font-style="italic">No</tspan></text>
<text font-size="41.5" x="1833.26" y="921.6">+</text>
<line x1="1522" y1="947.4" x2="1566.6" y2="947.4" stroke="#000" stroke-width="1.2" stroke-linecap="butt"/>
<polygon points="1533.5,937.68 1555.1,937.68 1544.3,957.12" fill="#e2e2e2" stroke="#000" stroke-width="1.3" stroke-linejoin="miter"/>
<text font-size="38.21" x="1605.36" y="961.9"><tspan font-style="italic">TCTP</tspan></text>
<text font-size="38.3" x="1838.98" y="962.1">-</text>
<line x1="1522" y1="993.9" x2="1566.6" y2="993.9" stroke="#000" stroke-width="1.2" stroke-linecap="butt"/>
<polygon points="1533.5,1003.62 1555.1,1003.62 1544.3,984.18" fill="#a00000" stroke="#000" stroke-width="1.3" stroke-linejoin="miter"/>
<text font-size="38.21" x="1605.36" y="1007"><tspan font-style="italic">TCTP</tspan></text>
<text font-size="41.5" x="1833.26" y="1012.5">+</text>
<line x1="1497.2" y1="1286.8" x2="1993.6" y2="1286.8" stroke="#000" stroke-width="3" stroke-linecap="butt"/>
<line x1="1512.7" y1="858.6" x2="1512.7" y2="1302.5" stroke="#000" stroke-width="3" stroke-linecap="butt"/>
<line x1="1497.4" y1="860.02" x2="1512.7" y2="860.02" stroke="#000" stroke-width="2.8" stroke-linecap="butt"/>
<text font-size="25" letter-spacing="5.73" x="1433.72" y="869.82">180</text>
<line x1="1497.4" y1="907.44" x2="1512.7" y2="907.44" stroke="#000" stroke-width="2.8" stroke-linecap="butt"/>
<text font-size="25" letter-spacing="5.73" x="1433.72" y="917.24">160</text>
<line x1="1497.4" y1="954.86" x2="1512.7" y2="954.86" stroke="#000" stroke-width="2.8" stroke-linecap="butt"/>
<text font-size="25" letter-spacing="5.73" x="1433.72" y="964.66">140</text>
<line x1="1497.4" y1="1002.28" x2="1512.7" y2="1002.28" stroke="#000" stroke-width="2.8" stroke-linecap="butt"/>
<text font-size="25" letter-spacing="5.73" x="1433.72" y="1012.08">120</text>
<line x1="1497.4" y1="1049.7" x2="1512.7" y2="1049.7" stroke="#000" stroke-width="2.8" stroke-linecap="butt"/>
<text font-size="25" letter-spacing="5.73" x="1433.72" y="1059.5">100</text>
<line x1="1497.4" y1="1097.12" x2="1512.7" y2="1097.12" stroke="#000" stroke-width="2.8" stroke-linecap="butt"/>
<text font-size="25" letter-spacing="6.3" x="1452.67" y="1106.92">80</text>
<line x1="1497.4" y1="1144.54" x2="1512.7" y2="1144.54" stroke="#000" stroke-width="2.8" stroke-linecap="butt"/>
<text font-size="25" letter-spacing="6.3" x="1452.67" y="1154.34">60</text>
<line x1="1497.4" y1="1191.96" x2="1512.7" y2="1191.96" stroke="#000" stroke-width="2.8" stroke-linecap="butt"/>
<text font-size="25" letter-spacing="6.3" x="1452.67" y="1201.76">40</text>
<line x1="1497.4" y1="1239.38" x2="1512.7" y2="1239.38" stroke="#000" stroke-width="2.8" stroke-linecap="butt"/>
<text font-size="25" letter-spacing="6.3" x="1452.67" y="1249.18">20</text>
<line x1="1497.4" y1="1286.8" x2="1512.7" y2="1286.8" stroke="#000" stroke-width="2.8" stroke-linecap="butt"/>
<text font-size="25" letter-spacing="6.3" x="1472.92" y="1296.6">0</text>
<line x1="1672.8" y1="1286.8" x2="1672.8" y2="1301.5" stroke="#000" stroke-width="2.8" stroke-linecap="butt"/>
<line x1="1832.9" y1="1286.8" x2="1832.9" y2="1301.5" stroke="#000" stroke-width="2.8" stroke-linecap="butt"/>
<line x1="1993" y1="1286.8" x2="1993" y2="1301.5" stroke="#000" stroke-width="2.8" stroke-linecap="butt"/>
<text font-size="25" letter-spacing="6.3" x="1503.06" y="1339.6">0</text>
<text font-size="25" letter-spacing="6.3" x="1653.11" y="1339.6">20</text>
<text font-size="25" letter-spacing="6.3" x="1813.42" y="1339.6">40</text>
<text font-size="25" letter-spacing="6.3" x="1972.81" y="1339.6">60</text>
<text font-size="41.65" x="1512.17" y="1391.5">Day after tumor challenge</text>
<text font-size="41.74" transform="translate(1422.9 1205.46) rotate(-90)">% of survival</text>
<polyline points="1512.7,1049.7 1680.81,1049.7 1680.81,1144.54 1696.82,1144.54 1696.82,1191.96 1712.83,1191.96 1712.83,1263.09 1728.84,1263.09 1728.84,1286.8" fill="none" stroke="#000" stroke-width="1.3" stroke-linejoin="miter"/>
<polygon points="1672.51,1152.01 1689.11,1152.01 1680.81,1137.07" fill="#a00000" stroke="#000" stroke-width="1.3" stroke-linejoin="miter"/>
<polygon points="1688.52,1199.43 1705.12,1199.43 1696.82,1184.49" fill="#a00000" stroke="#000" stroke-width="1.3" stroke-linejoin="miter"/>
<polygon points="1704.53,1270.56 1721.12,1270.56 1712.83,1255.62" fill="#a00000" stroke="#000" stroke-width="1.3" stroke-linejoin="miter"/>
<polygon points="1720.54,1294.27 1737.13,1294.27 1728.84,1279.33" fill="#a00000" stroke="#000" stroke-width="1.3" stroke-linejoin="miter"/>
<polyline points="1512.7,1049.7 1664.8,1049.7 1664.8,1073.41 1680.81,1073.41 1680.81,1191.96 1696.82,1191.96 1696.82,1239.38 1712.83,1239.38 1712.83,1286.8" fill="none" stroke="#000" stroke-width="1.3" stroke-linejoin="miter"/>
<polygon points="1656.5,1065.94 1673.1,1065.94 1664.8,1080.88" fill="#d3d3d3" stroke="#000" stroke-width="1.3" stroke-linejoin="miter"/>
<polygon points="1672.51,1184.49 1689.11,1184.49 1680.81,1199.43" fill="#d3d3d3" stroke="#000" stroke-width="1.3" stroke-linejoin="miter"/>
<polygon points="1688.52,1231.91 1705.12,1231.91 1696.82,1246.85" fill="#d3d3d3" stroke="#000" stroke-width="1.3" stroke-linejoin="miter"/>
<polygon points="1704.53,1279.33 1721.12,1279.33 1712.83,1294.27" fill="#d3d3d3" stroke="#000" stroke-width="1.3" stroke-linejoin="miter"/>
<polyline points="1512.7,1049.7 1856.91,1049.7 1856.91,1073.41 1872.93,1073.41 1872.93,1097.12 1993,1097.12" fill="none" stroke="#000" stroke-width="1.3" stroke-linejoin="miter"/>
<circle cx="1856.91" cy="1073.41" r="8.3" fill="#a00000" stroke="#000" stroke-width="1.3"/>
<circle cx="1872.93" cy="1097.12" r="8.3" fill="#a00000" stroke="#000" stroke-width="1.3"/>
<circle cx="1993" cy="1097.12" r="8.3" fill="#a00000" stroke="#000" stroke-width="1.3"/>
<polyline points="1512.7,1049.7 1696.82,1049.7 1696.82,1073.41 1712.83,1073.41 1712.83,1097.12 1744.85,1097.12 1744.85,1168.25 1776.87,1168.25 1776.87,1215.67 1792.88,1215.67 1792.88,1239.38 1808.88,1239.38 1808.88,1286.8" fill="none" stroke="#000" stroke-width="1.3" stroke-linejoin="miter"/>
<circle cx="1696.82" cy="1073.41" r="8.3" fill="#d3d3d3" stroke="#000" stroke-width="1.3"/>
<circle cx="1712.83" cy="1097.12" r="8.3" fill="#d3d3d3" stroke="#000" stroke-width="1.3"/>
<circle cx="1744.85" cy="1168.25" r="8.3" fill="#d3d3d3" stroke="#000" stroke-width="1.3"/>
<circle cx="1776.87" cy="1215.67" r="8.3" fill="#d3d3d3" stroke="#000" stroke-width="1.3"/>
<circle cx="1792.88" cy="1239.38" r="8.3" fill="#d3d3d3" stroke="#000" stroke-width="1.3"/>
<circle cx="1808.88" cy="1286.8" r="8.3" fill="#d3d3d3" stroke="#000" stroke-width="1.3"/>
<polyline points="1938.8,900.1 1950.6,900.1 1950.6,992.7 1938.8,992.7" fill="none" stroke="#000" stroke-width="1.9" stroke-linejoin="miter"/>
<text font-size="31.7" textLength="138.87" lengthAdjust="spacingAndGlyphs" transform="translate(1961.7 873.63) rotate(90)"><tspan font-style="italic">p</tspan> &lt; 0.0001</text>
<text font-size="59" class="b" textLength="17.08" lengthAdjust="spacingAndGlyphs" x="12.5" y="1549.6"><tspan font-weight="bold">i</tspan></text>
<text font-size="29.61" x="274.74" y="1543.2"><tspan font-style="italic">p</tspan> &lt; 0.0001</text>
<line x1="261.8" y1="1551.6" x2="423" y2="1551.6" stroke="#000" stroke-width="1.8" stroke-linecap="butt"/>
<text font-size="30.13" x="193.55" y="1594.8"><tspan font-style="italic">p</tspan> = 0.0282</text>
<line x1="182.1" y1="1604.4" x2="342.7" y2="1604.4" stroke="#000" stroke-width="1.8" stroke-linecap="butt"/>
<line x1="137" y1="2024.5" x2="473" y2="2024.5" stroke="#000" stroke-width="3" stroke-linecap="butt"/>
<line x1="152.2" y1="1595.3" x2="152.2" y2="2026" stroke="#000" stroke-width="3" stroke-linecap="butt"/>
<line x1="136.9" y1="1596.8" x2="152.2" y2="1596.8" stroke="#000" stroke-width="2.8" stroke-linecap="butt"/>
<text font-size="25" letter-spacing="6.3" x="92.08" y="1606.6">20</text>
<line x1="136.9" y1="1703.7" x2="152.2" y2="1703.7" stroke="#000" stroke-width="2.8" stroke-linecap="butt"/>
<text font-size="25" letter-spacing="6.3" x="92.08" y="1713.5">15</text>
<line x1="136.9" y1="1810.8" x2="152.2" y2="1810.8" stroke="#000" stroke-width="2.8" stroke-linecap="butt"/>
<text font-size="25" letter-spacing="6.3" x="92.08" y="1820.6">10</text>
<line x1="136.9" y1="1917.8" x2="152.2" y2="1917.8" stroke="#000" stroke-width="2.8" stroke-linecap="butt"/>
<text font-size="25" letter-spacing="6.3" x="112.33" y="1927.6">5</text>
<line x1="136.9" y1="2024.5" x2="152.2" y2="2024.5" stroke="#000" stroke-width="2.8" stroke-linecap="butt"/>
<text font-size="25" letter-spacing="6.3" x="112.33" y="2034.3">0</text>
<line x1="191.8" y1="1881.7" x2="191.8" y2="1888.1" stroke="#000" stroke-width="2.7" stroke-linecap="butt"/>
<line x1="178.8" y1="1881.7" x2="204.8" y2="1881.7" stroke="#000" stroke-width="2.3" stroke-linecap="butt"/>
<line x1="191.8" y1="1923" x2="191.8" y2="1934.2" stroke="#000" stroke-width="2.7" stroke-linecap="butt"/>
<line x1="178.8" y1="1934.2" x2="204.8" y2="1934.2" stroke="#000" stroke-width="2.3" stroke-linecap="butt"/>
<rect x="165" y="1888.7" width="53.6" height="33.7" fill="#d3d3d3" stroke="#000" stroke-width="2.8" />
<line x1="164.4" y1="1905.2" x2="219.2" y2="1905.2" stroke="#000" stroke-width="2.6" stroke-linecap="butt"/>
<circle cx="176.7" cy="1895.5" r="7.9" fill="#fff" stroke="#000" stroke-width="1.5"/>
<circle cx="206.3" cy="1881.7" r="7.9" fill="#fff" stroke="#000" stroke-width="1.5"/>
<circle cx="191.8" cy="1904.2" r="7.9" fill="#fff" stroke="#000" stroke-width="1.5"/>
<circle cx="203.7" cy="1911.3" r="7.9" fill="#fff" stroke="#000" stroke-width="1.5"/>
<circle cx="179.6" cy="1933.9" r="7.9" fill="#fff" stroke="#000" stroke-width="1.5"/>
<line x1="271.4" y1="1730.2" x2="271.4" y2="1748.9" stroke="#000" stroke-width="2.7" stroke-linecap="butt"/>
<line x1="258.4" y1="1748.9" x2="284.4" y2="1748.9" stroke="#000" stroke-width="2.3" stroke-linecap="butt"/>
<rect x="244.6" y="1675.3" width="53.6" height="54.3" fill="#a00000" stroke="#000" stroke-width="2.8" />
<line x1="244" y1="1704.4" x2="298.8" y2="1704.4" stroke="#000" stroke-width="2.6" stroke-linecap="butt"/>
<circle cx="259.5" cy="1676" r="7.9" fill="#fff" stroke="#000" stroke-width="1.5"/>
<circle cx="283.7" cy="1675.4" r="7.9" fill="#fff" stroke="#000" stroke-width="1.5"/>
<circle cx="259.5" cy="1705.3" r="7.9" fill="#fff" stroke="#000" stroke-width="1.5"/>
<circle cx="283.7" cy="1711.5" r="7.9" fill="#fff" stroke="#000" stroke-width="1.5"/>
<circle cx="271.4" cy="1748.9" r="7.9" fill="#fff" stroke="#000" stroke-width="1.5"/>
<rect x="324.6" y="1936.1" width="53.6" height="12.7" fill="#d3d3d3" stroke="#000" stroke-width="2.8" />
<line x1="324" y1="1946.2" x2="378.8" y2="1946.2" stroke="#000" stroke-width="2.6" stroke-linecap="butt"/>
<circle cx="337.5" cy="1935.5" r="7.9" fill="#fff" stroke="#000" stroke-width="1.5"/>
<circle cx="365.9" cy="1937.1" r="7.9" fill="#fff" stroke="#000" stroke-width="1.5"/>
<circle cx="343.3" cy="1946.2" r="7.9" fill="#fff" stroke="#000" stroke-width="1.5"/>
<circle cx="351.4" cy="1949.4" r="7.9" fill="#fff" stroke="#000" stroke-width="1.5"/>
<circle cx="358.8" cy="1947.8" r="7.9" fill="#fff" stroke="#000" stroke-width="1.5"/>
<line x1="431.3" y1="1922" x2="431.3" y2="1927.8" stroke="#000" stroke-width="2.7" stroke-linecap="butt"/>
<line x1="418.3" y1="1922" x2="444.3" y2="1922" stroke="#000" stroke-width="2.3" stroke-linecap="butt"/>
<rect x="404.5" y="1928.4" width="53.6" height="16.2" fill="#a00000" stroke="#000" stroke-width="2.8" />
<line x1="403.9" y1="1935.8" x2="458.7" y2="1935.8" stroke="#000" stroke-width="2.6" stroke-linecap="butt"/>
<circle cx="431.3" cy="1922" r="7.9" fill="#fff" stroke="#000" stroke-width="1.5"/>
<circle cx="419.1" cy="1936.5" r="7.9" fill="#fff" stroke="#000" stroke-width="1.5"/>
<circle cx="444.2" cy="1934.9" r="7.9" fill="#fff" stroke="#000" stroke-width="1.5"/>
<circle cx="437.8" cy="1941.3" r="7.9" fill="#fff" stroke="#000" stroke-width="1.5"/>
<circle cx="424.9" cy="1947.1" r="7.9" fill="#fff" stroke="#000" stroke-width="1.5"/>
<text font-size="40.08" transform="translate(35.5 1954.4) rotate(-90)"># of CD8<tspan font-size="24.85" dy="-12.43">+</tspan><tspan dy="12.43"> T cells</tspan></text>
<text font-size="40.44" transform="translate(83.2 1971.92) rotate(-90)">g<tspan font-size="25.07" dy="-12.54">-1</tspan><tspan dy="12.54"> of tumor (x 10</tspan><tspan font-size="25.07" dy="-12.54">5</tspan><tspan dy="12.54">)</tspan></text>
<text font-size="38.3" textLength="124.6" lengthAdjust="spacingAndGlyphs" x="-0.96" y="2069.9">αPD-L1</text>
<text font-size="38.3" x="148.73" y="2071.2">:</text>
<text font-size="38.3" x="181.58" y="2070.4">-</text>
<text font-size="41.5" x="250.56" y="2073.8">+</text>
<text font-size="38.3" x="345.98" y="2070.4">-</text>
<text font-size="41.5" x="414.96" y="2073.8">+</text>
<line x1="144.1" y1="2080.9" x2="304.6" y2="2080.9" stroke="#000" stroke-width="1.9" stroke-linecap="butt"/>
<line x1="312" y1="2080.9" x2="473" y2="2080.9" stroke="#000" stroke-width="1.9" stroke-linecap="butt"/>
<text font-size="38.44" x="200.35" y="2126.4"><tspan font-style="italic">No</tspan></text>
<text font-size="38.49" x="343.04" y="2126.4"><tspan font-style="italic">TCTP</tspan></text>
<text font-size="59" class="b" textLength="17.9" lengthAdjust="spacingAndGlyphs" x="510.67" y="1549.6"><tspan font-weight="bold">j</tspan></text>
<text font-size="29.61" x="788.64" y="1543.2"><tspan font-style="italic">p</tspan> &lt; 0.0001</text>
<line x1="775.6" y1="1551.6" x2="936.8" y2="1551.6" stroke="#000" stroke-width="1.8" stroke-linecap="butt"/>
<text font-size="30.16" x="707.05" y="1594.8"><tspan font-style="italic">p</tspan> = 0.0016</text>
<line x1="696" y1="1604.4" x2="856.9" y2="1604.4" stroke="#000" stroke-width="1.8" stroke-linecap="butt"/>
<line x1="633.1" y1="2024.5" x2="969" y2="2024.5" stroke="#000" stroke-width="3" stroke-linecap="butt"/>
<line x1="648.3" y1="1596" x2="648.3" y2="2026" stroke="#000" stroke-width="3" stroke-linecap="butt"/>
<line x1="633" y1="1597.5" x2="648.3" y2="1597.5" stroke="#000" stroke-width="2.8" stroke-linecap="butt"/>
<text font-size="25" x="608.67" y="1607.3">4</text>
<line x1="633" y1="1703.7" x2="648.3" y2="1703.7" stroke="#000" stroke-width="2.8" stroke-linecap="butt"/>
<text font-size="25" x="609.05" y="1713.5">3</text>
<line x1="633" y1="1810.8" x2="648.3" y2="1810.8" stroke="#000" stroke-width="2.8" stroke-linecap="butt"/>
<text font-size="25" x="609.17" y="1820.6">2</text>
<line x1="633" y1="1918.1" x2="648.3" y2="1918.1" stroke="#000" stroke-width="2.8" stroke-linecap="butt"/>
<text font-size="25" x="609.05" y="1927.9">1</text>
<line x1="633" y1="2024.5" x2="648.3" y2="2024.5" stroke="#000" stroke-width="2.8" stroke-linecap="butt"/>
<text font-size="25" x="608.92" y="2034.3">0</text>
<line x1="688.25" y1="1899.4" x2="688.25" y2="1906.5" stroke="#000" stroke-width="2.7" stroke-linecap="butt"/>
<line x1="675.25" y1="1899.4" x2="701.25" y2="1899.4" stroke="#000" stroke-width="2.3" stroke-linecap="butt"/>
<line x1="688.25" y1="1929.4" x2="688.25" y2="1938.1" stroke="#000" stroke-width="2.7" stroke-linecap="butt"/>
<line x1="675.25" y1="1938.1" x2="701.25" y2="1938.1" stroke="#000" stroke-width="2.3" stroke-linecap="butt"/>
<rect x="661.8" y="1907.1" width="52.9" height="21.7" fill="#d3d3d3" stroke="#000" stroke-width="2.8" />
<line x1="661.2" y1="1919.7" x2="715.3" y2="1919.7" stroke="#000" stroke-width="2.6" stroke-linecap="butt"/>
<circle cx="688" cy="1899.4" r="7.9" fill="#fff" stroke="#000" stroke-width="1.5"/>
<circle cx="701.5" cy="1913.3" r="7.9" fill="#fff" stroke="#000" stroke-width="1.5"/>
<circle cx="675.7" cy="1919.7" r="7.9" fill="#fff" stroke="#000" stroke-width="1.5"/>
<circle cx="694.4" cy="1919.7" r="7.9" fill="#fff" stroke="#000" stroke-width="1.5"/>
<circle cx="681.2" cy="1938.7" r="7.9" fill="#fff" stroke="#000" stroke-width="1.5"/>
<line x1="767.9" y1="1716.6" x2="767.9" y2="1739.2" stroke="#000" stroke-width="2.7" stroke-linecap="butt"/>
<line x1="754.9" y1="1716.6" x2="780.9" y2="1716.6" stroke="#000" stroke-width="2.3" stroke-linecap="butt"/>
<rect x="741.4" y="1739.8" width="53" height="37.2" fill="#a00000" stroke="#000" stroke-width="2.8" />
<line x1="740.8" y1="1767.2" x2="795" y2="1767.2" stroke="#000" stroke-width="2.6" stroke-linecap="butt"/>
<circle cx="767.6" cy="1716.6" r="7.9" fill="#fff" stroke="#000" stroke-width="1.5"/>
<circle cx="780.5" cy="1763.4" r="7.9" fill="#fff" stroke="#000" stroke-width="1.5"/>
<circle cx="756.3" cy="1768.2" r="7.9" fill="#fff" stroke="#000" stroke-width="1.5"/>
<circle cx="774.7" cy="1774.7" r="7.9" fill="#fff" stroke="#000" stroke-width="1.5"/>
<circle cx="761.1" cy="1779.2" r="7.9" fill="#fff" stroke="#000" stroke-width="1.5"/>
<line x1="847.5" y1="1958.4" x2="847.5" y2="1962.9" stroke="#000" stroke-width="2.7" stroke-linecap="butt"/>
<line x1="834.5" y1="1958.4" x2="860.5" y2="1958.4" stroke="#000" stroke-width="2.3" stroke-linecap="butt"/>
<rect x="820.7" y="1963.5" width="53.6" height="19.1" fill="#d3d3d3" stroke="#000" stroke-width="2.8" />
<line x1="820.1" y1="1975" x2="874.9" y2="1975" stroke="#000" stroke-width="2.6" stroke-linecap="butt"/>
<circle cx="833" cy="1959" r="7.9" fill="#fff" stroke="#000" stroke-width="1.5"/>
<circle cx="862" cy="1968.1" r="7.9" fill="#fff" stroke="#000" stroke-width="1.5"/>
<circle cx="847" cy="1984.5" r="7.9" fill="#fff" stroke="#000" stroke-width="1.5"/>
<circle cx="840.1" cy="1983.2" r="7.9" fill="#fff" stroke="#000" stroke-width="1.5"/>
<circle cx="854.6" cy="1983.2" r="7.9" fill="#fff" stroke="#000" stroke-width="1.5"/>
<line x1="927.6" y1="1984.2" x2="927.6" y2="1990.6" stroke="#000" stroke-width="2.7" stroke-linecap="butt"/>
<line x1="914.6" y1="1990.6" x2="940.6" y2="1990.6" stroke="#000" stroke-width="2.3" stroke-linecap="butt"/>
<rect x="901.3" y="1937.1" width="52.6" height="46.5" fill="#a00000" stroke="#000" stroke-width="2.8" />
<line x1="900.7" y1="1954.2" x2="954.5" y2="1954.2" stroke="#000" stroke-width="2.6" stroke-linecap="butt"/>
<circle cx="913.6" cy="1940.7" r="7.9" fill="#fff" stroke="#000" stroke-width="1.5"/>
<circle cx="941.7" cy="1935.5" r="7.9" fill="#fff" stroke="#000" stroke-width="1.5"/>
<circle cx="927.1" cy="1955.2" r="7.9" fill="#fff" stroke="#000" stroke-width="1.5"/>
<circle cx="939.4" cy="1976.8" r="7.9" fill="#fff" stroke="#000" stroke-width="1.5"/>
<circle cx="915.2" cy="1991.3" r="7.9" fill="#fff" stroke="#000" stroke-width="1.5"/>
<text font-size="40.15" transform="translate(544 1968.71) rotate(-90)">Ratio CD8<tspan font-size="24.89" dy="-12.45">+</tspan><tspan dy="12.45"> T cells</tspan></text>
<text font-size="40.22" transform="translate(591.9 1877.4) rotate(-90)">to Tregs</text>
<text font-size="38.3" textLength="124.81" lengthAdjust="spacingAndGlyphs" x="509.14" y="2069.9">αPD-L1</text>
<text font-size="38.3" x="659.13" y="2071.2">:</text>
<text font-size="38.3" x="692.48" y="2070.4">-</text>
<text font-size="41.5" x="761.26" y="2073.8">+</text>
<text font-size="38.3" x="856.88" y="2070.4">-</text>
<text font-size="41.5" x="925.66" y="2073.8">+</text>
<line x1="654.7" y1="2080.9" x2="815.3" y2="2080.9" stroke="#000" stroke-width="1.9" stroke-linecap="butt"/>
<line x1="823.3" y1="2080.9" x2="984.5" y2="2080.9" stroke="#000" stroke-width="1.9" stroke-linecap="butt"/>
<text font-size="37.94" x="711.66" y="2126.4"><tspan font-style="italic">No</tspan></text>
<text font-size="38.45" x="853.74" y="2126.4"><tspan font-style="italic">TCTP</tspan></text>
<text font-size="59" class="b" textLength="34.75" lengthAdjust="spacingAndGlyphs" x="987.23" y="1549.6"><tspan font-weight="bold">k</tspan></text>
<text font-size="29.42" x="1300.54" y="1537.7"><tspan font-style="italic">p</tspan> &lt; 0.0001</text>
<line x1="1286.9" y1="1546.1" x2="1448.1" y2="1546.1" stroke="#000" stroke-width="1.8" stroke-linecap="butt"/>
<text font-size="30.07" x="1227.35" y="1588.3"><tspan font-style="italic">p</tspan> = 0.002</text>
<line x1="1206.6" y1="1599" x2="1367.8" y2="1599" stroke="#000" stroke-width="1.8" stroke-linecap="butt"/>
<line x1="1154.7" y1="2024.5" x2="1491" y2="2024.5" stroke="#000" stroke-width="3" stroke-linecap="butt"/>
<line x1="1170.2" y1="1595.3" x2="1170.2" y2="2026" stroke="#000" stroke-width="3" stroke-linecap="butt"/>
<line x1="1154.9" y1="1596.8" x2="1170.2" y2="1596.8" stroke="#000" stroke-width="2.8" stroke-linecap="butt"/>
<text font-size="25" x="1130.83" y="1606.6">8</text>
<line x1="1154.9" y1="1703.7" x2="1170.2" y2="1703.7" stroke="#000" stroke-width="2.8" stroke-linecap="butt"/>
<text font-size="25" x="1130.95" y="1713.5">6</text>
<line x1="1154.9" y1="1810.8" x2="1170.2" y2="1810.8" stroke="#000" stroke-width="2.8" stroke-linecap="butt"/>
<text font-size="25" x="1130.58" y="1820.6">4</text>
<line x1="1154.9" y1="1917.8" x2="1170.2" y2="1917.8" stroke="#000" stroke-width="2.8" stroke-linecap="butt"/>
<text font-size="25" x="1131.08" y="1927.6">2</text>
<line x1="1154.9" y1="2024.5" x2="1170.2" y2="2024.5" stroke="#000" stroke-width="2.8" stroke-linecap="butt"/>
<text font-size="25" x="1130.83" y="2034.3">0</text>
<line x1="1209.9" y1="1801.7" x2="1209.9" y2="1826.2" stroke="#000" stroke-width="2.7" stroke-linecap="butt"/>
<line x1="1196.9" y1="1801.7" x2="1222.9" y2="1801.7" stroke="#000" stroke-width="2.3" stroke-linecap="butt"/>
<line x1="1209.9" y1="1902" x2="1209.9" y2="1907.5" stroke="#000" stroke-width="2.7" stroke-linecap="butt"/>
<line x1="1196.9" y1="1907.5" x2="1222.9" y2="1907.5" stroke="#000" stroke-width="2.3" stroke-linecap="butt"/>
<rect x="1183.1" y="1826.8" width="53.6" height="74.6" fill="#d3d3d3" stroke="#000" stroke-width="2.8" />
<line x1="1182.5" y1="1874.6" x2="1237.3" y2="1874.6" stroke="#000" stroke-width="2.6" stroke-linecap="butt"/>
<circle cx="1209.5" cy="1801.7" r="7.9" fill="#fff" stroke="#000" stroke-width="1.5"/>
<circle cx="1197.6" cy="1851.1" r="7.9" fill="#fff" stroke="#000" stroke-width="1.5"/>
<circle cx="1234" cy="1875.2" r="7.9" fill="#fff" stroke="#000" stroke-width="1.5"/>
<circle cx="1221.8" cy="1896.2" r="7.9" fill="#fff" stroke="#000" stroke-width="1.5"/>
<circle cx="1197.6" cy="1907.5" r="7.9" fill="#fff" stroke="#000" stroke-width="1.5"/>
<line x1="1289.5" y1="1629.3" x2="1289.5" y2="1654.4" stroke="#000" stroke-width="2.7" stroke-linecap="butt"/>
<line x1="1276.5" y1="1629.3" x2="1302.5" y2="1629.3" stroke="#000" stroke-width="2.3" stroke-linecap="butt"/>
<line x1="1289.5" y1="1711.8" x2="1289.5" y2="1722.8" stroke="#000" stroke-width="2.7" stroke-linecap="butt"/>
<line x1="1276.5" y1="1722.8" x2="1302.5" y2="1722.8" stroke="#000" stroke-width="2.3" stroke-linecap="butt"/>
<rect x="1262.7" y="1655" width="53.6" height="56.2" fill="#a00000" stroke="#000" stroke-width="2.8" />
<line x1="1262.1" y1="1693.7" x2="1316.9" y2="1693.7" stroke="#000" stroke-width="2.6" stroke-linecap="butt"/>
<circle cx="1289.2" cy="1629.3" r="7.9" fill="#fff" stroke="#000" stroke-width="1.5"/>
<circle cx="1277.2" cy="1679.6" r="7.9" fill="#fff" stroke="#000" stroke-width="1.5"/>
<circle cx="1313.3" cy="1693.7" r="7.9" fill="#fff" stroke="#000" stroke-width="1.5"/>
<circle cx="1301.4" cy="1700.5" r="7.9" fill="#fff" stroke="#000" stroke-width="1.5"/>
<circle cx="1277.2" cy="1722.8" r="7.9" fill="#fff" stroke="#000" stroke-width="1.5"/>
<line x1="1369.1" y1="1934" x2="1369.1" y2="1937.1" stroke="#000" stroke-width="2.7" stroke-linecap="butt"/>
<line x1="1356.1" y1="1934" x2="1382.1" y2="1934" stroke="#000" stroke-width="2.3" stroke-linecap="butt"/>
<rect x="1342.3" y="1937.7" width="53.6" height="14.9" fill="#d3d3d3" stroke="#000" stroke-width="2.8" />
<line x1="1341.7" y1="1945.5" x2="1396.5" y2="1945.5" stroke="#000" stroke-width="2.6" stroke-linecap="butt"/>
<circle cx="1354.6" cy="1933.9" r="7.9" fill="#fff" stroke="#000" stroke-width="1.5"/>
<circle cx="1369.1" cy="1953.2" r="7.9" fill="#fff" stroke="#000" stroke-width="1.5"/>
<circle cx="1376.2" cy="1953.2" r="7.9" fill="#fff" stroke="#000" stroke-width="1.5"/>
<circle cx="1361.7" cy="1945.2" r="7.9" fill="#fff" stroke="#000" stroke-width="1.5"/>
<circle cx="1383.6" cy="1942.3" r="7.9" fill="#fff" stroke="#000" stroke-width="1.5"/>
<line x1="1449.1" y1="1928.4" x2="1449.1" y2="1930.7" stroke="#000" stroke-width="2.7" stroke-linecap="butt"/>
<line x1="1436.1" y1="1928.4" x2="1462.1" y2="1928.4" stroke="#000" stroke-width="2.3" stroke-linecap="butt"/>
<rect x="1422.3" y="1931.3" width="53.6" height="17.5" fill="#a00000" stroke="#000" stroke-width="2.8" />
<line x1="1421.7" y1="1945" x2="1476.5" y2="1945" stroke="#000" stroke-width="2.6" stroke-linecap="butt"/>
<circle cx="1434.2" cy="1927.8" r="7.9" fill="#fff" stroke="#000" stroke-width="1.5"/>
<circle cx="1463.6" cy="1933.9" r="7.9" fill="#fff" stroke="#000" stroke-width="1.5"/>
<circle cx="1441.7" cy="1945.5" r="7.9" fill="#fff" stroke="#000" stroke-width="1.5"/>
<circle cx="1456.2" cy="1945.5" r="7.9" fill="#fff" stroke="#000" stroke-width="1.5"/>
<circle cx="1449.1" cy="1951" r="7.9" fill="#fff" stroke="#000" stroke-width="1.5"/>
<text font-size="39.91" transform="translate(1047.7 1996.3) rotate(-90)"># of GrB<tspan font-size="24.74" dy="-12.37">+</tspan><tspan dy="12.37"> CD8</tspan><tspan font-size="24.74" dy="-12.37">+</tspan><tspan dy="12.37"> T cells</tspan></text>
<text font-size="39.85" transform="translate(1094.5 1963.89) rotate(-90)">g<tspan font-size="24.71" dy="-12.35">-1</tspan><tspan dy="12.35"> of tumor (x 10</tspan><tspan font-size="24.71" dy="-12.35">5</tspan><tspan dy="12.35">)</tspan></text>
<text font-size="38.3" textLength="125.42" lengthAdjust="spacingAndGlyphs" x="1017.23" y="2069.9">αPD-L1</text>
<text font-size="38.3" x="1167.83" y="2071.2">:</text>
<text font-size="38.3" x="1200.58" y="2070.4">-</text>
<text font-size="41.5" x="1269.26" y="2073.8">+</text>
<text font-size="38.3" x="1364.98" y="2070.4">-</text>
<text font-size="41.5" x="1433.66" y="2073.8">+</text>
<line x1="1162.8" y1="2080.9" x2="1323.3" y2="2080.9" stroke="#000" stroke-width="1.9" stroke-linecap="butt"/>
<line x1="1331.4" y1="2080.9" x2="1492.3" y2="2080.9" stroke="#000" stroke-width="1.9" stroke-linecap="butt"/>
<text font-size="37.94" x="1219.66" y="2126.4"><tspan font-style="italic">No</tspan></text>
<text font-size="38.49" x="1361.74" y="2126.4"><tspan font-style="italic">TCTP</tspan></text>
<text font-size="59" class="b" textLength="17.9" lengthAdjust="spacingAndGlyphs" x="1541.49" y="1549.6"><tspan font-weight="bold">l</tspan></text>
<text font-size="29.63" x="1811.74" y="1538.4"><tspan font-style="italic">p</tspan> &lt; 0.0001</text>
<line x1="1798.1" y1="1546.4" x2="1959.3" y2="1546.4" stroke="#000" stroke-width="1.8" stroke-linecap="butt"/>
<text font-size="29.42" x="1731.14" y="1590"><tspan font-style="italic">p</tspan> &lt; 0.0001</text>
<line x1="1718.2" y1="1599.6" x2="1879.4" y2="1599.6" stroke="#000" stroke-width="1.8" stroke-linecap="butt"/>
<line x1="1669.2" y1="2026.7" x2="2008" y2="2026.7" stroke="#000" stroke-width="3" stroke-linecap="butt"/>
<line x1="1684.7" y1="1596.3" x2="1684.7" y2="2028.2" stroke="#000" stroke-width="3" stroke-linecap="butt"/>
<line x1="1669.4" y1="1597.8" x2="1684.7" y2="1597.8" stroke="#000" stroke-width="2.8" stroke-linecap="butt"/>
<text font-size="31.5" x="1627.8" y="1607.5">25</text>
<line x1="1669.4" y1="1683.8" x2="1684.7" y2="1683.8" stroke="#000" stroke-width="2.8" stroke-linecap="butt"/>
<text font-size="31.5" x="1627.8" y="1693.5">20</text>
<line x1="1669.4" y1="1769.6" x2="1684.7" y2="1769.6" stroke="#000" stroke-width="2.8" stroke-linecap="butt"/>
<text font-size="31.5" x="1627.8" y="1779.3">15</text>
<line x1="1669.4" y1="1855.1" x2="1684.7" y2="1855.1" stroke="#000" stroke-width="2.8" stroke-linecap="butt"/>
<text font-size="31.5" x="1627.8" y="1864.8">10</text>
<line x1="1669.4" y1="1940.7" x2="1684.7" y2="1940.7" stroke="#000" stroke-width="2.8" stroke-linecap="butt"/>
<text font-size="31.5" x="1645.28" y="1950.4">5</text>
<line x1="1669.4" y1="2026.7" x2="1684.7" y2="2026.7" stroke="#000" stroke-width="2.8" stroke-linecap="butt"/>
<text font-size="31.5" x="1645.28" y="2036.4">0</text>
<line x1="1724.45" y1="1812.4" x2="1724.45" y2="1818.2" stroke="#000" stroke-width="2.7" stroke-linecap="butt"/>
<line x1="1711.45" y1="1812.4" x2="1737.45" y2="1812.4" stroke="#000" stroke-width="2.3" stroke-linecap="butt"/>
<line x1="1724.45" y1="1855.9" x2="1724.45" y2="1863" stroke="#000" stroke-width="2.7" stroke-linecap="butt"/>
<line x1="1711.45" y1="1863" x2="1737.45" y2="1863" stroke="#000" stroke-width="2.3" stroke-linecap="butt"/>
<rect x="1697.8" y="1818.8" width="53.3" height="36.5" fill="#d3d3d3" stroke="#000" stroke-width="2.8" />
<line x1="1697.2" y1="1829.1" x2="1751.7" y2="1829.1" stroke="#000" stroke-width="2.6" stroke-linecap="butt"/>
<circle cx="1739.1" cy="1812.4" r="7.9" fill="#fff" stroke="#000" stroke-width="1.5"/>
<circle cx="1710.1" cy="1823.7" r="7.9" fill="#fff" stroke="#000" stroke-width="1.5"/>
<circle cx="1724" cy="1829.5" r="7.9" fill="#fff" stroke="#000" stroke-width="1.5"/>
<circle cx="1736.9" cy="1848.8" r="7.9" fill="#fff" stroke="#000" stroke-width="1.5"/>
<circle cx="1712.1" cy="1864" r="7.9" fill="#fff" stroke="#000" stroke-width="1.5"/>
<line x1="1804.9" y1="1658.6" x2="1804.9" y2="1672.1" stroke="#000" stroke-width="2.7" stroke-linecap="butt"/>
<line x1="1791.9" y1="1658.6" x2="1817.9" y2="1658.6" stroke="#000" stroke-width="2.3" stroke-linecap="butt"/>
<line x1="1804.9" y1="1727.9" x2="1804.9" y2="1730.5" stroke="#000" stroke-width="2.7" stroke-linecap="butt"/>
<line x1="1791.9" y1="1730.5" x2="1817.9" y2="1730.5" stroke="#000" stroke-width="2.3" stroke-linecap="butt"/>
<rect x="1778.4" y="1672.7" width="53" height="54.6" fill="#a00000" stroke="#000" stroke-width="2.8" />
<line x1="1777.8" y1="1714" x2="1832" y2="1714" stroke="#000" stroke-width="2.6" stroke-linecap="butt"/>
<circle cx="1804.6" cy="1658.6" r="7.9" fill="#fff" stroke="#000" stroke-width="1.5"/>
<circle cx="1804.6" cy="1686" r="7.9" fill="#fff" stroke="#000" stroke-width="1.5"/>
<circle cx="1790.7" cy="1714.7" r="7.9" fill="#fff" stroke="#000" stroke-width="1.5"/>
<circle cx="1819.1" cy="1724.4" r="7.9" fill="#fff" stroke="#000" stroke-width="1.5"/>
<circle cx="1804.6" cy="1730.2" r="7.9" fill="#fff" stroke="#000" stroke-width="1.5"/>
<rect x="1858.4" y="1926.8" width="53.3" height="25.2" fill="#d3d3d3" stroke="#000" stroke-width="2.8" />
<line x1="1857.8" y1="1933.3" x2="1912.3" y2="1933.3" stroke="#000" stroke-width="2.6" stroke-linecap="butt"/>
<circle cx="1884.5" cy="1923.6" r="7.9" fill="#fff" stroke="#000" stroke-width="1.5"/>
<circle cx="1897.1" cy="1929.4" r="7.9" fill="#fff" stroke="#000" stroke-width="1.5"/>
<circle cx="1872.9" cy="1934.2" r="7.9" fill="#fff" stroke="#000" stroke-width="1.5"/>
<circle cx="1891.6" cy="1949.4" r="7.9" fill="#fff" stroke="#000" stroke-width="1.5"/>
<circle cx="1878.1" cy="1954.2" r="7.9" fill="#fff" stroke="#000" stroke-width="1.5"/>
<line x1="1965.45" y1="1887.2" x2="1965.45" y2="1901.7" stroke="#000" stroke-width="2.7" stroke-linecap="butt"/>
<line x1="1952.45" y1="1887.2" x2="1978.45" y2="1887.2" stroke="#000" stroke-width="2.3" stroke-linecap="butt"/>
<line x1="1965.45" y1="1940.4" x2="1965.45" y2="1952.6" stroke="#000" stroke-width="2.7" stroke-linecap="butt"/>
<line x1="1952.45" y1="1952.6" x2="1978.45" y2="1952.6" stroke="#000" stroke-width="2.3" stroke-linecap="butt"/>
<rect x="1939" y="1902.3" width="52.9" height="37.5" fill="#a00000" stroke="#000" stroke-width="2.8" />
<line x1="1938.4" y1="1920.4" x2="1992.5" y2="1920.4" stroke="#000" stroke-width="2.6" stroke-linecap="butt"/>
<circle cx="1965.1" cy="1887.2" r="7.9" fill="#fff" stroke="#000" stroke-width="1.5"/>
<circle cx="1950.3" cy="1918.8" r="7.9" fill="#fff" stroke="#000" stroke-width="1.5"/>
<circle cx="1979.6" cy="1916.2" r="7.9" fill="#fff" stroke="#000" stroke-width="1.5"/>
<circle cx="1965.1" cy="1927.8" r="7.9" fill="#fff" stroke="#000" stroke-width="1.5"/>
<circle cx="1965.1" cy="1952.6" r="7.9" fill="#fff" stroke="#000" stroke-width="1.5"/>
<text font-size="39.8" transform="translate(1581.5 1987.89) rotate(-90)">% of apoptotic cells</text>
<text font-size="38.3" textLength="125.73" lengthAdjust="spacingAndGlyphs" x="1530.73" y="2073.1">αPD-L1</text>
<text font-size="38.3" x="1680.03" y="2074.4">:</text>
<text font-size="38.3" x="1713.38" y="2073.6">-</text>
<text font-size="41.5" x="1782.76" y="2077">+</text>
<text font-size="38.3" x="1878.08" y="2073.6">-</text>
<text font-size="41.5" x="1947.16" y="2077">+</text>
<line x1="1676.3" y1="2083.8" x2="1836.8" y2="2083.8" stroke="#000" stroke-width="1.9" stroke-linecap="butt"/>
<line x1="1844.2" y1="2083.8" x2="2005.4" y2="2083.8" stroke="#000" stroke-width="1.9" stroke-linecap="butt"/>
<text font-size="38.44" x="1732.55" y="2129.7"><tspan font-style="italic">No</tspan></text>
<text font-size="38.21" x="1875.26" y="2129.7"><tspan font-style="italic">TCTP</tspan></text>
</svg>
</body>
</html>
